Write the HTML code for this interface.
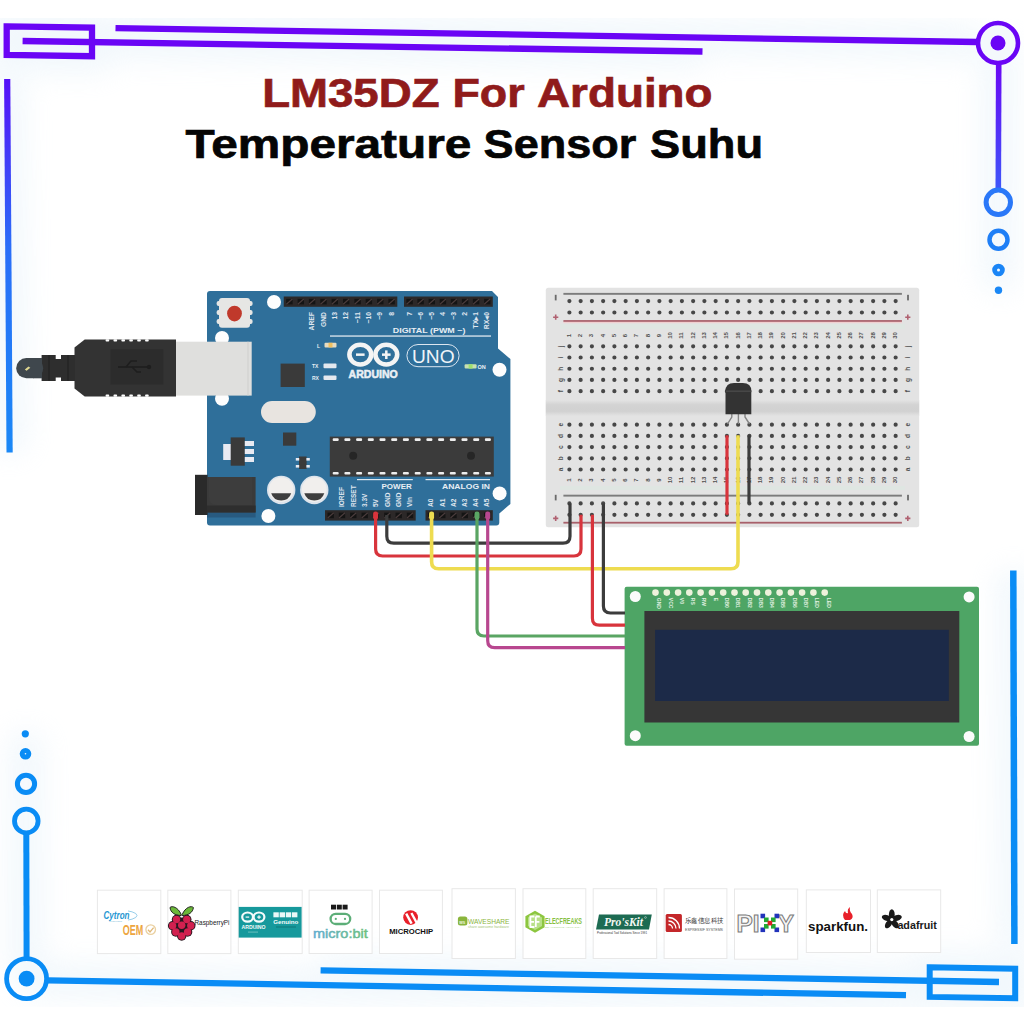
<!DOCTYPE html>
<html><head><meta charset="utf-8">
<style>
html,body{margin:0;padding:0;background:#fff;}
body{width:1024px;height:1024px;overflow:hidden;position:relative;font-family:"Liberation Sans",sans-serif;}
svg{position:absolute;left:0;top:0;}
</style></head><body>
<svg width="1024" height="1024" viewBox="0 0 1024 1024" style="font-family:'Liberation Sans',sans-serif">
<defs>
<filter id="glow" x="-10%" y="-10%" width="120%" height="120%"><feGaussianBlur stdDeviation="14"/></filter>
<clipPath id="band"><rect x="0" y="18" width="1024" height="989"/></clipPath>
<linearGradient id="gl" x1="0" y1="79" x2="0" y2="453" gradientUnits="userSpaceOnUse"><stop offset="0" stop-color="#5510f8"/><stop offset="0.45" stop-color="#2a6ef8"/><stop offset="1" stop-color="#1a88f6"/></linearGradient>
<linearGradient id="gr" x1="0" y1="65" x2="0" y2="200" gradientUnits="userSpaceOnUse"><stop offset="0" stop-color="#6a08f5"/><stop offset="1" stop-color="#3a5cfa"/></linearGradient>
</defs>

<g clip-path="url(#band)"><g filter="url(#glow)" fill="none" stroke="#d6e9f6" stroke-width="34" opacity="0.32">
<path d="M6.7,26.4 L92,27.7 L92,56.2 L6.7,55 Z"/>
<path d="M22.6,41 L702.5,51.5"/>
<path d="M115.5,28.1 L977,42"/>
<path d="M998.7,40 L998.3,290"/>
<path d="M7.2,79 L9.6,452.6"/>
<path d="M26,733 L26.6,980"/>
<path d="M26,980.3 L906,995.2"/>
<path d="M320.6,970.3 L999,982"/>
<path d="M929.7,967.3 L1015.2,968.8 L1015.2,998.3 L929.7,996.9 Z"/>
<path d="M1013.3,570.6 L1014.4,944"/>
</g></g>
<g fill="none" stroke="#6a05f5" stroke-width="6.3">
<path d="M6.7,26.4 L92,27.7 L92,56.2 L6.7,55 Z" stroke-linejoin="miter"/>
<path d="M22.6,41 L702.5,51.5"/>
<path d="M115.5,28.1 L977,42"/>
</g>
<circle cx="998" cy="43" r="20" fill="#f4f9fc" stroke="#6a05f5" stroke-width="4.6"/>
<circle cx="998" cy="43" r="7.5" fill="#6a05f5"/>
<path d="M998.7,64 L998.3,190" stroke="url(#gr)" stroke-width="5.6" fill="none"/>
<circle cx="998.3" cy="202.3" r="12.2" fill="none" stroke="#2a78f8" stroke-width="5"/>
<circle cx="998.5" cy="239.8" r="9" fill="none" stroke="#1f7ff6" stroke-width="4.5"/>
<circle cx="998.5" cy="270" r="3.9" fill="none" stroke="#1a85f6" stroke-width="4.8"/>
<circle cx="998.5" cy="290.2" r="3.7" fill="#1a88f6"/>
<path d="M7.2,79 L9.6,452.6" stroke="url(#gl)" stroke-width="6.2" fill="none"/>
<g fill="none" stroke="#0a8cf5">
<circle cx="25.3" cy="733.8" r="3.6" fill="#0a8cf5" stroke="none"/>
<circle cx="25.5" cy="753.8" r="3.3" stroke-width="5"/>
<circle cx="26" cy="783.9" r="8.6" stroke-width="5"/>
<circle cx="26.3" cy="821" r="11.8" stroke-width="4.8"/>
<path d="M26.3,833 L26.6,957" stroke-width="6"/>
<circle cx="26.6" cy="978.7" r="20" stroke-width="4.8"/>
<circle cx="26.6" cy="978.7" r="7.9" fill="#0a8cf5" stroke="none"/>
<path d="M48,980.3 L906,995.2" stroke-width="6.3"/>
<path d="M320.6,970.3 L999,982" stroke-width="6.3"/>
<path d="M929.7,967.3 L1015.2,968.8 L1015.2,998.3 L929.7,996.9 Z" stroke-width="6"/>
<path d="M1013.3,570.6 L1014.4,944" stroke-width="6.5"/>
</g>
<path d="M210,291 L492,291 L498,297 L498,348.6 L510.4,359 L510.4,504 L499.3,513.4 L499.3,522.6 Q499.3,525.6 496.3,525.6 L210,525.6 Q207,525.6 207,522.6 L207,294 Q207,291 210,291 Z" fill="#2f6f9a"/>
<rect x="283.75" y="296.5" width="113.55000000000001" height="10.300000000000011" fill="#2c2828"/>
<rect x="286.2" y="298.8" width="6.4" height="5.6" fill="#141414"/>
<path d="M286.4,304.2 L292.4,299.0" stroke="#4a3c3c" stroke-width="1.2"/>
<rect x="297.6" y="298.8" width="6.4" height="5.6" fill="#141414"/>
<path d="M297.8,304.2 L303.8,299.0" stroke="#4a3c3c" stroke-width="1.2"/>
<rect x="308.9" y="298.8" width="6.4" height="5.6" fill="#141414"/>
<path d="M309.1,304.2 L315.1,299.0" stroke="#4a3c3c" stroke-width="1.2"/>
<rect x="320.3" y="298.8" width="6.4" height="5.6" fill="#141414"/>
<path d="M320.5,304.2 L326.5,299.0" stroke="#4a3c3c" stroke-width="1.2"/>
<rect x="331.6" y="298.8" width="6.4" height="5.6" fill="#141414"/>
<path d="M331.8,304.2 L337.8,299.0" stroke="#4a3c3c" stroke-width="1.2"/>
<rect x="343.0" y="298.8" width="6.4" height="5.6" fill="#141414"/>
<path d="M343.2,304.2 L349.2,299.0" stroke="#4a3c3c" stroke-width="1.2"/>
<rect x="354.4" y="298.8" width="6.4" height="5.6" fill="#141414"/>
<path d="M354.6,304.2 L360.6,299.0" stroke="#4a3c3c" stroke-width="1.2"/>
<rect x="365.7" y="298.8" width="6.4" height="5.6" fill="#141414"/>
<path d="M365.9,304.2 L371.9,299.0" stroke="#4a3c3c" stroke-width="1.2"/>
<rect x="377.1" y="298.8" width="6.4" height="5.6" fill="#141414"/>
<path d="M377.3,304.2 L383.3,299.0" stroke="#4a3c3c" stroke-width="1.2"/>
<rect x="388.4" y="298.8" width="6.4" height="5.6" fill="#141414"/>
<path d="M388.6,304.2 L394.6,299.0" stroke="#4a3c3c" stroke-width="1.2"/>
<rect x="404" y="296.5" width="88.80000000000001" height="10.300000000000011" fill="#2c2828"/>
<rect x="406.4" y="298.8" width="6.4" height="5.6" fill="#141414"/>
<path d="M406.6,304.2 L412.6,299.0" stroke="#4a3c3c" stroke-width="1.2"/>
<rect x="417.4" y="298.8" width="6.4" height="5.6" fill="#141414"/>
<path d="M417.6,304.2 L423.6,299.0" stroke="#4a3c3c" stroke-width="1.2"/>
<rect x="428.6" y="298.8" width="6.4" height="5.6" fill="#141414"/>
<path d="M428.8,304.2 L434.8,299.0" stroke="#4a3c3c" stroke-width="1.2"/>
<rect x="439.7" y="298.8" width="6.4" height="5.6" fill="#141414"/>
<path d="M439.9,304.2 L445.9,299.0" stroke="#4a3c3c" stroke-width="1.2"/>
<rect x="450.8" y="298.8" width="6.4" height="5.6" fill="#141414"/>
<path d="M450.9,304.2 L456.9,299.0" stroke="#4a3c3c" stroke-width="1.2"/>
<rect x="461.9" y="298.8" width="6.4" height="5.6" fill="#141414"/>
<path d="M462.1,304.2 L468.1,299.0" stroke="#4a3c3c" stroke-width="1.2"/>
<rect x="472.9" y="298.8" width="6.4" height="5.6" fill="#141414"/>
<path d="M473.1,304.2 L479.1,299.0" stroke="#4a3c3c" stroke-width="1.2"/>
<rect x="484.1" y="298.8" width="6.4" height="5.6" fill="#141414"/>
<path d="M484.2,304.2 L490.2,299.0" stroke="#4a3c3c" stroke-width="1.2"/>
<rect x="325" y="510.2" width="90.69999999999999" height="10.400000000000034" fill="#2c2828"/>
<rect x="327.5" y="512.6" width="6.4" height="5.6" fill="#141414"/>
<path d="M327.7,518.0 L333.7,512.8" stroke="#4a3c3c" stroke-width="1.2"/>
<rect x="338.8" y="512.6" width="6.4" height="5.6" fill="#141414"/>
<path d="M339.0,518.0 L345.0,512.8" stroke="#4a3c3c" stroke-width="1.2"/>
<rect x="350.1" y="512.6" width="6.4" height="5.6" fill="#141414"/>
<path d="M350.3,518.0 L356.3,512.8" stroke="#4a3c3c" stroke-width="1.2"/>
<rect x="361.5" y="512.6" width="6.4" height="5.6" fill="#141414"/>
<path d="M361.7,518.0 L367.7,512.8" stroke="#4a3c3c" stroke-width="1.2"/>
<rect x="372.8" y="512.6" width="6.4" height="5.6" fill="#141414"/>
<path d="M373.0,518.0 L379.0,512.8" stroke="#4a3c3c" stroke-width="1.2"/>
<rect x="384.2" y="512.6" width="6.4" height="5.6" fill="#141414"/>
<path d="M384.4,518.0 L390.4,512.8" stroke="#4a3c3c" stroke-width="1.2"/>
<rect x="395.5" y="512.6" width="6.4" height="5.6" fill="#141414"/>
<path d="M395.7,518.0 L401.7,512.8" stroke="#4a3c3c" stroke-width="1.2"/>
<rect x="406.8" y="512.6" width="6.4" height="5.6" fill="#141414"/>
<path d="M407.0,518.0 L413.0,512.8" stroke="#4a3c3c" stroke-width="1.2"/>
<rect x="425.5" y="510.2" width="67.30000000000001" height="10.400000000000034" fill="#2c2828"/>
<rect x="427.9" y="512.6" width="6.4" height="5.6" fill="#141414"/>
<path d="M428.1,518.0 L434.1,512.8" stroke="#4a3c3c" stroke-width="1.2"/>
<rect x="439.1" y="512.6" width="6.4" height="5.6" fill="#141414"/>
<path d="M439.3,518.0 L445.3,512.8" stroke="#4a3c3c" stroke-width="1.2"/>
<rect x="450.3" y="512.6" width="6.4" height="5.6" fill="#141414"/>
<path d="M450.5,518.0 L456.5,512.8" stroke="#4a3c3c" stroke-width="1.2"/>
<rect x="461.6" y="512.6" width="6.4" height="5.6" fill="#141414"/>
<path d="M461.8,518.0 L467.8,512.8" stroke="#4a3c3c" stroke-width="1.2"/>
<rect x="472.8" y="512.6" width="6.4" height="5.6" fill="#141414"/>
<path d="M473.0,518.0 L479.0,512.8" stroke="#4a3c3c" stroke-width="1.2"/>
<rect x="484.0" y="512.6" width="6.4" height="5.6" fill="#141414"/>
<path d="M484.2,518.0 L490.2,512.8" stroke="#4a3c3c" stroke-width="1.2"/>
<circle cx="274" cy="302" r="7" fill="#fdfdfd"/>
<circle cx="499.5" cy="369.7" r="7" fill="#fdfdfd"/>
<circle cx="268.4" cy="516" r="7" fill="#fdfdfd"/>
<circle cx="499.6" cy="493.4" r="7" fill="#fdfdfd"/>
<circle cx="222" cy="338" r="7" fill="#fdfdfd"/>
<circle cx="222" cy="398.7" r="7" fill="#fdfdfd"/>
<rect x="219" y="298" width="31" height="29.7" rx="3" fill="#e6e6e4"/>
<rect x="216.6" y="301" width="36" height="5" rx="2" fill="#e6e6e4"/>
<rect x="216.6" y="310" width="36" height="5" rx="2" fill="#e6e6e4"/>
<rect x="216.6" y="319" width="36" height="5" rx="2" fill="#e6e6e4"/>
<ellipse cx="234.5" cy="313.6" rx="7.4" ry="7.8" fill="#c0392b"/>
<rect x="280.6" y="363.6" width="24.2" height="23.4" fill="#3a3a3a"/>
<rect x="261" y="401" width="54.8" height="22" rx="11" fill="#e8e4e0"/>
<rect x="223.2" y="444" width="8" height="16" fill="#e8eaf2"/>
<rect x="230.7" y="437.4" width="14.1" height="28.3" fill="#3a3a3a"/>
<rect x="244.8" y="441" width="9.2" height="5" fill="#e8eaf2"/>
<rect x="244.8" y="449" width="9.2" height="5" fill="#e8eaf2"/>
<rect x="244.8" y="457" width="9.2" height="5" fill="#e8eaf2"/>
<rect x="283" y="432.5" width="13.3" height="13.2" fill="#3a3a3a"/>
<rect x="299" y="456.5" width="7.6" height="12.5" fill="#3a3a3a"/>
<rect x="295.8" y="458" width="3.4" height="2.6" fill="#e8eaf2"/>
<rect x="306.4" y="458" width="3.4" height="2.6" fill="#e8eaf2"/>
<rect x="295.8" y="465" width="3.4" height="2.6" fill="#e8eaf2"/>
<rect x="306.4" y="465" width="3.4" height="2.6" fill="#e8eaf2"/>
<rect x="207" y="512" width="48.6" height="5.5" fill="#285a80"/>
<rect x="195" y="474.8" width="12.6" height="40.2" fill="#2a2a2a"/>
<rect x="207" y="477" width="48.6" height="35.4" fill="#3a3a3a"/>
<path d="M209,477 H252 V505 H217 Q209,505 209,497 Z" fill="#3d3d3d"/>
<rect x="207" y="505.5" width="48.6" height="7" fill="#2e2e2e"/>
<circle cx="281.2" cy="490" r="14.2" fill="#dde4ec"/>
<circle cx="281.2" cy="489.6" r="12.4" fill="#f1efed"/>
<path d="M271.2,493.2 A10.5,10.5 0 0 0 291.2,493.2 Z" fill="#3e3e3e"/>
<circle cx="314.3" cy="490" r="14.2" fill="#dde4ec"/>
<circle cx="314.3" cy="489.6" r="12.4" fill="#f1efed"/>
<path d="M304.3,493.2 A10.5,10.5 0 0 0 324.3,493.2 Z" fill="#3e3e3e"/>
<rect x="329.8" y="436.6" width="164" height="40" fill="#3b3b3b"/>
<rect x="332.7" y="438.3" width="6" height="2.6" rx="1" fill="#eeeeee"/>
<rect x="332.7" y="472" width="6" height="2.6" rx="1" fill="#eeeeee"/>
<rect x="344.4" y="438.3" width="6" height="2.6" rx="1" fill="#eeeeee"/>
<rect x="344.4" y="472" width="6" height="2.6" rx="1" fill="#eeeeee"/>
<rect x="356.1" y="438.3" width="6" height="2.6" rx="1" fill="#eeeeee"/>
<rect x="356.1" y="472" width="6" height="2.6" rx="1" fill="#eeeeee"/>
<rect x="367.8" y="438.3" width="6" height="2.6" rx="1" fill="#eeeeee"/>
<rect x="367.8" y="472" width="6" height="2.6" rx="1" fill="#eeeeee"/>
<rect x="379.5" y="438.3" width="6" height="2.6" rx="1" fill="#eeeeee"/>
<rect x="379.5" y="472" width="6" height="2.6" rx="1" fill="#eeeeee"/>
<rect x="391.2" y="438.3" width="6" height="2.6" rx="1" fill="#eeeeee"/>
<rect x="391.2" y="472" width="6" height="2.6" rx="1" fill="#eeeeee"/>
<rect x="402.9" y="438.3" width="6" height="2.6" rx="1" fill="#eeeeee"/>
<rect x="402.9" y="472" width="6" height="2.6" rx="1" fill="#eeeeee"/>
<rect x="414.7" y="438.3" width="6" height="2.6" rx="1" fill="#eeeeee"/>
<rect x="414.7" y="472" width="6" height="2.6" rx="1" fill="#eeeeee"/>
<rect x="426.4" y="438.3" width="6" height="2.6" rx="1" fill="#eeeeee"/>
<rect x="426.4" y="472" width="6" height="2.6" rx="1" fill="#eeeeee"/>
<rect x="438.1" y="438.3" width="6" height="2.6" rx="1" fill="#eeeeee"/>
<rect x="438.1" y="472" width="6" height="2.6" rx="1" fill="#eeeeee"/>
<rect x="449.8" y="438.3" width="6" height="2.6" rx="1" fill="#eeeeee"/>
<rect x="449.8" y="472" width="6" height="2.6" rx="1" fill="#eeeeee"/>
<rect x="461.5" y="438.3" width="6" height="2.6" rx="1" fill="#eeeeee"/>
<rect x="461.5" y="472" width="6" height="2.6" rx="1" fill="#eeeeee"/>
<rect x="473.2" y="438.3" width="6" height="2.6" rx="1" fill="#eeeeee"/>
<rect x="473.2" y="472" width="6" height="2.6" rx="1" fill="#eeeeee"/>
<rect x="484.9" y="438.3" width="6" height="2.6" rx="1" fill="#eeeeee"/>
<rect x="484.9" y="472" width="6" height="2.6" rx="1" fill="#eeeeee"/>
<circle cx="353.2" cy="455.7" r="4" fill="#262626"/>
<circle cx="471" cy="455.7" r="4" fill="#262626"/>
<rect x="330" y="335.4" width="161" height="1.3" fill="#dfe8f0"/>
<rect x="357" y="479" width="55.8" height="1.2" fill="#dfe8f0"/>
<rect x="425.5" y="479" width="64.5" height="1.2" fill="#dfe8f0"/>
<text x="392.8" y="332.8" font-size="7.6" fill="#e8eef4" font-weight="bold" textLength="72.6" lengthAdjust="spacingAndGlyphs">DIGITAL (PWM ~)</text>
<text x="381.5" y="489.4" font-size="7.6" fill="#e8eef4" font-weight="bold" textLength="30.3" lengthAdjust="spacingAndGlyphs">POWER</text>
<text x="442" y="489.4" font-size="7.6" fill="#e8eef4" font-weight="bold" textLength="48" lengthAdjust="spacingAndGlyphs">ANALOG IN</text>
<text x="348.6" y="378.2" font-size="10.4" fill="#e8eef4" font-weight="bold" stroke="#eef2f6" stroke-width="0.5" textLength="49.2" lengthAdjust="spacingAndGlyphs">ARDUINO</text>
<g fill="none" stroke="#f4f4f4" stroke-width="4.6">
<ellipse cx="360.3" cy="354.6" rx="10.9" ry="9.9"/>
<ellipse cx="386.3" cy="354.6" rx="10.9" ry="9.9"/>
</g>
<rect x="356" y="353.4" width="8.6" height="2.5" fill="#f4f4f4"/>
<rect x="382" y="353.4" width="8.6" height="2.5" fill="#f4f4f4"/>
<rect x="385.05" y="350.4" width="2.5" height="8.6" fill="#f4f4f4"/>
<rect x="406.9" y="344.5" width="52.2" height="22.2" rx="11.1" fill="none" stroke="#dce6f0" stroke-width="1"/>
<text x="412" y="363.2" font-size="17.5" fill="#f0f4f8" textLength="42.6" lengthAdjust="spacingAndGlyphs">UNO</text>
<text x="317" y="347.5" font-size="5" fill="#e8eef4" font-weight="bold">L</text>
<rect x="324.5" y="342.8" width="12" height="4.6" rx="1" fill="#e8dcc0"/>
<rect x="328.5" y="342.8" width="4" height="4.6" fill="#f0c060"/>
<text x="312" y="368.3" font-size="5" fill="#e8eef4" font-weight="bold">TX</text>
<text x="312" y="380" font-size="5" fill="#e8eef4" font-weight="bold">RX</text>
<rect x="323.5" y="363.6" width="13" height="4.6" rx="1" fill="#e4e8ee"/>
<rect x="323.5" y="375.4" width="13" height="4.6" rx="1" fill="#e4e8ee"/>
<rect x="464.6" y="364.2" width="12" height="4.4" rx="1" fill="#c8e0b0"/>
<rect x="468.6" y="364.2" width="4" height="4.4" fill="#9ee070"/>
<text x="477.5" y="368.8" font-size="5.5" fill="#e8eef4" font-weight="bold">ON</text>
<text transform="translate(314.1,312) rotate(-90)" font-size="6.8" fill="#e0e8f0" font-weight="bold" text-anchor="end">AREF</text>
<text transform="translate(325.5,312) rotate(-90)" font-size="6.8" fill="#e0e8f0" font-weight="bold" text-anchor="end">GND</text>
<text transform="translate(336.8,312) rotate(-90)" font-size="6.8" fill="#e0e8f0" font-weight="bold" text-anchor="end">13</text>
<text transform="translate(348.2,312) rotate(-90)" font-size="6.8" fill="#e0e8f0" font-weight="bold" text-anchor="end">12</text>
<text transform="translate(359.6,312) rotate(-90)" font-size="6.8" fill="#e0e8f0" font-weight="bold" text-anchor="end">~11</text>
<text transform="translate(370.9,312) rotate(-90)" font-size="6.8" fill="#e0e8f0" font-weight="bold" text-anchor="end">~10</text>
<text transform="translate(382.3,312) rotate(-90)" font-size="6.8" fill="#e0e8f0" font-weight="bold" text-anchor="end">~9</text>
<text transform="translate(393.6,312) rotate(-90)" font-size="6.8" fill="#e0e8f0" font-weight="bold" text-anchor="end">8</text>
<text transform="translate(411.6,312) rotate(-90)" font-size="6.8" fill="#e0e8f0" font-weight="bold" text-anchor="end">7</text>
<text transform="translate(422.6,312) rotate(-90)" font-size="6.8" fill="#e0e8f0" font-weight="bold" text-anchor="end">~6</text>
<text transform="translate(433.8,312) rotate(-90)" font-size="6.8" fill="#e0e8f0" font-weight="bold" text-anchor="end">~5</text>
<text transform="translate(444.9,312) rotate(-90)" font-size="6.8" fill="#e0e8f0" font-weight="bold" text-anchor="end">4</text>
<text transform="translate(455.9,312) rotate(-90)" font-size="6.8" fill="#e0e8f0" font-weight="bold" text-anchor="end">~3</text>
<text transform="translate(467.1,312) rotate(-90)" font-size="6.8" fill="#e0e8f0" font-weight="bold" text-anchor="end">2</text>
<text transform="translate(478.1,312) rotate(-90)" font-size="6.8" fill="#e0e8f0" font-weight="bold" text-anchor="end">TX▸1</text>
<text transform="translate(489.2,312) rotate(-90)" font-size="6.8" fill="#e0e8f0" font-weight="bold" text-anchor="end">RX◂0</text>
<text transform="translate(332.9,507) rotate(-90)" font-size="6.5" fill="#e0e8f0" font-weight="bold"></text>
<text transform="translate(344.2,507) rotate(-90)" font-size="6.5" fill="#e0e8f0" font-weight="bold">IOREF</text>
<text transform="translate(355.5,507) rotate(-90)" font-size="6.5" fill="#e0e8f0" font-weight="bold">RESET</text>
<text transform="translate(366.9,507) rotate(-90)" font-size="6.5" fill="#e0e8f0" font-weight="bold">3.3V</text>
<text transform="translate(378.2,507) rotate(-90)" font-size="6.5" fill="#e0e8f0" font-weight="bold">5V</text>
<text transform="translate(389.6,507) rotate(-90)" font-size="6.5" fill="#e0e8f0" font-weight="bold">GND</text>
<text transform="translate(400.9,507) rotate(-90)" font-size="6.5" fill="#e0e8f0" font-weight="bold">GND</text>
<text transform="translate(412.2,507) rotate(-90)" font-size="6.5" fill="#e0e8f0" font-weight="bold">Vin</text>
<text transform="translate(433.3,507) rotate(-90)" font-size="6.5" fill="#e0e8f0" font-weight="bold">A0</text>
<text transform="translate(444.5,507) rotate(-90)" font-size="6.5" fill="#e0e8f0" font-weight="bold">A1</text>
<text transform="translate(455.7,507) rotate(-90)" font-size="6.5" fill="#e0e8f0" font-weight="bold">A2</text>
<text transform="translate(467.0,507) rotate(-90)" font-size="6.5" fill="#e0e8f0" font-weight="bold">A3</text>
<text transform="translate(478.2,507) rotate(-90)" font-size="6.5" fill="#e0e8f0" font-weight="bold">A4</text>
<text transform="translate(489.4,507) rotate(-90)" font-size="6.5" fill="#e0e8f0" font-weight="bold">A5</text>
<rect x="176" y="341.7" width="75.7" height="53.9" fill="#dfdfdd"/>
<rect x="247.5" y="341.7" width="1" height="53.9" fill="#cfcfcd"/>
<path d="M84.7,339.6 L176,339.6 L176,396.6 L84.7,396.6 L74.5,388.5 L74.5,347.6 Z" fill="#333333"/>
<rect x="110.6" y="349.3" width="52.7" height="35.2" fill="#2c2c2c"/>
<rect x="105.6" y="339.2" width="3.6" height="2.3" rx="0.8" fill="#fff"/>
<rect x="105.6" y="394.5" width="3.6" height="2.3" rx="0.8" fill="#fff"/>
<rect x="113.5" y="339.2" width="3.6" height="2.3" rx="0.8" fill="#fff"/>
<rect x="113.5" y="394.5" width="3.6" height="2.3" rx="0.8" fill="#fff"/>
<rect x="121.4" y="339.2" width="3.6" height="2.3" rx="0.8" fill="#fff"/>
<rect x="121.4" y="394.5" width="3.6" height="2.3" rx="0.8" fill="#fff"/>
<rect x="129.3" y="339.2" width="3.6" height="2.3" rx="0.8" fill="#fff"/>
<rect x="129.3" y="394.5" width="3.6" height="2.3" rx="0.8" fill="#fff"/>
<rect x="137.2" y="339.2" width="3.6" height="2.3" rx="0.8" fill="#fff"/>
<rect x="137.2" y="394.5" width="3.6" height="2.3" rx="0.8" fill="#fff"/>
<rect x="145.1" y="339.2" width="3.6" height="2.3" rx="0.8" fill="#fff"/>
<rect x="145.1" y="394.5" width="3.6" height="2.3" rx="0.8" fill="#fff"/>
<rect x="41.6" y="355" width="14.1" height="26" fill="#2e2e2e"/>
<rect x="55" y="359" width="7" height="18.5" fill="#2e2e2e"/>
<rect x="61" y="355" width="14" height="26" fill="#2e2e2e"/>
<rect x="48" y="355" width="2" height="26" fill="#262626"/>
<rect x="67" y="355" width="2" height="26" fill="#262626"/>
<rect x="16.2" y="358" width="27" height="20.3" rx="10.1" fill="#3f474d"/>
<rect x="33" y="358" width="9" height="20.3" fill="#3f474d"/>
<path d="M24.8,369.6 L28.5,366.6 L30.3,367.8 L26.6,370.8 Z" fill="#e0d890"/>
<g stroke="#1e1e1e" stroke-width="1.6" fill="none"><path d="M118,367 H148"/><path d="M126,367 L131,361 H137"/><path d="M132,367 L137,372 H141"/></g>
<circle cx="149" cy="367" r="2.2" fill="#1e1e1e"/>
<rect x="545.8" y="287.8" width="373.4" height="239.5" rx="2.5" fill="#e3e3e3"/>
<linearGradient id="chg" x1="0" y1="400" x2="0" y2="416" gradientUnits="userSpaceOnUse"><stop offset="0" stop-color="#e3e3e3"/><stop offset="0.3" stop-color="#d3d3d3"/><stop offset="0.7" stop-color="#d1d1d1"/><stop offset="1" stop-color="#e3e3e3"/></linearGradient>
<rect x="545.8" y="400" width="373.4" height="16" fill="url(#chg)"/>
<rect x="560" y="324" width="345" height="5" fill="#dfe6e2"/>
<rect x="560" y="486" width="345" height="4" fill="#dfe6e2"/>
<rect x="563.4" y="292.9" width="338.5" height="1.9" fill="#7c7c7c"/>
<rect x="563.4" y="320.1" width="338.5" height="1.8" fill="#a8606a"/><rect x="563.4" y="321.9" width="338.5" height="1.2" fill="#f0d0d0"/>
<rect x="563.4" y="494.7" width="338.5" height="1.9" fill="#7c7c7c"/>
<rect x="563.4" y="521.8" width="338.5" height="1.8" fill="#a8606a"/>
<path d="M567.30,301.10a2.1,2.1 0 1,0 4.2,0a2.1,2.1 0 1,0 -4.2,0M578.55,301.10a2.1,2.1 0 1,0 4.2,0a2.1,2.1 0 1,0 -4.2,0M589.80,301.10a2.1,2.1 0 1,0 4.2,0a2.1,2.1 0 1,0 -4.2,0M601.05,301.10a2.1,2.1 0 1,0 4.2,0a2.1,2.1 0 1,0 -4.2,0M612.30,301.10a2.1,2.1 0 1,0 4.2,0a2.1,2.1 0 1,0 -4.2,0M623.55,301.10a2.1,2.1 0 1,0 4.2,0a2.1,2.1 0 1,0 -4.2,0M634.80,301.10a2.1,2.1 0 1,0 4.2,0a2.1,2.1 0 1,0 -4.2,0M646.05,301.10a2.1,2.1 0 1,0 4.2,0a2.1,2.1 0 1,0 -4.2,0M657.30,301.10a2.1,2.1 0 1,0 4.2,0a2.1,2.1 0 1,0 -4.2,0M668.55,301.10a2.1,2.1 0 1,0 4.2,0a2.1,2.1 0 1,0 -4.2,0M679.80,301.10a2.1,2.1 0 1,0 4.2,0a2.1,2.1 0 1,0 -4.2,0M691.05,301.10a2.1,2.1 0 1,0 4.2,0a2.1,2.1 0 1,0 -4.2,0M702.30,301.10a2.1,2.1 0 1,0 4.2,0a2.1,2.1 0 1,0 -4.2,0M713.55,301.10a2.1,2.1 0 1,0 4.2,0a2.1,2.1 0 1,0 -4.2,0M724.80,301.10a2.1,2.1 0 1,0 4.2,0a2.1,2.1 0 1,0 -4.2,0M736.05,301.10a2.1,2.1 0 1,0 4.2,0a2.1,2.1 0 1,0 -4.2,0M747.30,301.10a2.1,2.1 0 1,0 4.2,0a2.1,2.1 0 1,0 -4.2,0M758.55,301.10a2.1,2.1 0 1,0 4.2,0a2.1,2.1 0 1,0 -4.2,0M769.80,301.10a2.1,2.1 0 1,0 4.2,0a2.1,2.1 0 1,0 -4.2,0M781.05,301.10a2.1,2.1 0 1,0 4.2,0a2.1,2.1 0 1,0 -4.2,0M792.30,301.10a2.1,2.1 0 1,0 4.2,0a2.1,2.1 0 1,0 -4.2,0M803.55,301.10a2.1,2.1 0 1,0 4.2,0a2.1,2.1 0 1,0 -4.2,0M814.80,301.10a2.1,2.1 0 1,0 4.2,0a2.1,2.1 0 1,0 -4.2,0M826.05,301.10a2.1,2.1 0 1,0 4.2,0a2.1,2.1 0 1,0 -4.2,0M837.30,301.10a2.1,2.1 0 1,0 4.2,0a2.1,2.1 0 1,0 -4.2,0M848.55,301.10a2.1,2.1 0 1,0 4.2,0a2.1,2.1 0 1,0 -4.2,0M859.80,301.10a2.1,2.1 0 1,0 4.2,0a2.1,2.1 0 1,0 -4.2,0M871.05,301.10a2.1,2.1 0 1,0 4.2,0a2.1,2.1 0 1,0 -4.2,0M882.30,301.10a2.1,2.1 0 1,0 4.2,0a2.1,2.1 0 1,0 -4.2,0M893.55,301.10a2.1,2.1 0 1,0 4.2,0a2.1,2.1 0 1,0 -4.2,0M567.30,312.50a2.1,2.1 0 1,0 4.2,0a2.1,2.1 0 1,0 -4.2,0M578.55,312.50a2.1,2.1 0 1,0 4.2,0a2.1,2.1 0 1,0 -4.2,0M589.80,312.50a2.1,2.1 0 1,0 4.2,0a2.1,2.1 0 1,0 -4.2,0M601.05,312.50a2.1,2.1 0 1,0 4.2,0a2.1,2.1 0 1,0 -4.2,0M612.30,312.50a2.1,2.1 0 1,0 4.2,0a2.1,2.1 0 1,0 -4.2,0M623.55,312.50a2.1,2.1 0 1,0 4.2,0a2.1,2.1 0 1,0 -4.2,0M634.80,312.50a2.1,2.1 0 1,0 4.2,0a2.1,2.1 0 1,0 -4.2,0M646.05,312.50a2.1,2.1 0 1,0 4.2,0a2.1,2.1 0 1,0 -4.2,0M657.30,312.50a2.1,2.1 0 1,0 4.2,0a2.1,2.1 0 1,0 -4.2,0M668.55,312.50a2.1,2.1 0 1,0 4.2,0a2.1,2.1 0 1,0 -4.2,0M679.80,312.50a2.1,2.1 0 1,0 4.2,0a2.1,2.1 0 1,0 -4.2,0M691.05,312.50a2.1,2.1 0 1,0 4.2,0a2.1,2.1 0 1,0 -4.2,0M702.30,312.50a2.1,2.1 0 1,0 4.2,0a2.1,2.1 0 1,0 -4.2,0M713.55,312.50a2.1,2.1 0 1,0 4.2,0a2.1,2.1 0 1,0 -4.2,0M724.80,312.50a2.1,2.1 0 1,0 4.2,0a2.1,2.1 0 1,0 -4.2,0M736.05,312.50a2.1,2.1 0 1,0 4.2,0a2.1,2.1 0 1,0 -4.2,0M747.30,312.50a2.1,2.1 0 1,0 4.2,0a2.1,2.1 0 1,0 -4.2,0M758.55,312.50a2.1,2.1 0 1,0 4.2,0a2.1,2.1 0 1,0 -4.2,0M769.80,312.50a2.1,2.1 0 1,0 4.2,0a2.1,2.1 0 1,0 -4.2,0M781.05,312.50a2.1,2.1 0 1,0 4.2,0a2.1,2.1 0 1,0 -4.2,0M792.30,312.50a2.1,2.1 0 1,0 4.2,0a2.1,2.1 0 1,0 -4.2,0M803.55,312.50a2.1,2.1 0 1,0 4.2,0a2.1,2.1 0 1,0 -4.2,0M814.80,312.50a2.1,2.1 0 1,0 4.2,0a2.1,2.1 0 1,0 -4.2,0M826.05,312.50a2.1,2.1 0 1,0 4.2,0a2.1,2.1 0 1,0 -4.2,0M837.30,312.50a2.1,2.1 0 1,0 4.2,0a2.1,2.1 0 1,0 -4.2,0M848.55,312.50a2.1,2.1 0 1,0 4.2,0a2.1,2.1 0 1,0 -4.2,0M859.80,312.50a2.1,2.1 0 1,0 4.2,0a2.1,2.1 0 1,0 -4.2,0M871.05,312.50a2.1,2.1 0 1,0 4.2,0a2.1,2.1 0 1,0 -4.2,0M882.30,312.50a2.1,2.1 0 1,0 4.2,0a2.1,2.1 0 1,0 -4.2,0M893.55,312.50a2.1,2.1 0 1,0 4.2,0a2.1,2.1 0 1,0 -4.2,0M567.30,346.30a2.1,2.1 0 1,0 4.2,0a2.1,2.1 0 1,0 -4.2,0M578.55,346.30a2.1,2.1 0 1,0 4.2,0a2.1,2.1 0 1,0 -4.2,0M589.80,346.30a2.1,2.1 0 1,0 4.2,0a2.1,2.1 0 1,0 -4.2,0M601.05,346.30a2.1,2.1 0 1,0 4.2,0a2.1,2.1 0 1,0 -4.2,0M612.30,346.30a2.1,2.1 0 1,0 4.2,0a2.1,2.1 0 1,0 -4.2,0M623.55,346.30a2.1,2.1 0 1,0 4.2,0a2.1,2.1 0 1,0 -4.2,0M634.80,346.30a2.1,2.1 0 1,0 4.2,0a2.1,2.1 0 1,0 -4.2,0M646.05,346.30a2.1,2.1 0 1,0 4.2,0a2.1,2.1 0 1,0 -4.2,0M657.30,346.30a2.1,2.1 0 1,0 4.2,0a2.1,2.1 0 1,0 -4.2,0M668.55,346.30a2.1,2.1 0 1,0 4.2,0a2.1,2.1 0 1,0 -4.2,0M679.80,346.30a2.1,2.1 0 1,0 4.2,0a2.1,2.1 0 1,0 -4.2,0M691.05,346.30a2.1,2.1 0 1,0 4.2,0a2.1,2.1 0 1,0 -4.2,0M702.30,346.30a2.1,2.1 0 1,0 4.2,0a2.1,2.1 0 1,0 -4.2,0M713.55,346.30a2.1,2.1 0 1,0 4.2,0a2.1,2.1 0 1,0 -4.2,0M724.80,346.30a2.1,2.1 0 1,0 4.2,0a2.1,2.1 0 1,0 -4.2,0M736.05,346.30a2.1,2.1 0 1,0 4.2,0a2.1,2.1 0 1,0 -4.2,0M747.30,346.30a2.1,2.1 0 1,0 4.2,0a2.1,2.1 0 1,0 -4.2,0M758.55,346.30a2.1,2.1 0 1,0 4.2,0a2.1,2.1 0 1,0 -4.2,0M769.80,346.30a2.1,2.1 0 1,0 4.2,0a2.1,2.1 0 1,0 -4.2,0M781.05,346.30a2.1,2.1 0 1,0 4.2,0a2.1,2.1 0 1,0 -4.2,0M792.30,346.30a2.1,2.1 0 1,0 4.2,0a2.1,2.1 0 1,0 -4.2,0M803.55,346.30a2.1,2.1 0 1,0 4.2,0a2.1,2.1 0 1,0 -4.2,0M814.80,346.30a2.1,2.1 0 1,0 4.2,0a2.1,2.1 0 1,0 -4.2,0M826.05,346.30a2.1,2.1 0 1,0 4.2,0a2.1,2.1 0 1,0 -4.2,0M837.30,346.30a2.1,2.1 0 1,0 4.2,0a2.1,2.1 0 1,0 -4.2,0M848.55,346.30a2.1,2.1 0 1,0 4.2,0a2.1,2.1 0 1,0 -4.2,0M859.80,346.30a2.1,2.1 0 1,0 4.2,0a2.1,2.1 0 1,0 -4.2,0M871.05,346.30a2.1,2.1 0 1,0 4.2,0a2.1,2.1 0 1,0 -4.2,0M882.30,346.30a2.1,2.1 0 1,0 4.2,0a2.1,2.1 0 1,0 -4.2,0M893.55,346.30a2.1,2.1 0 1,0 4.2,0a2.1,2.1 0 1,0 -4.2,0M567.30,357.52a2.1,2.1 0 1,0 4.2,0a2.1,2.1 0 1,0 -4.2,0M578.55,357.52a2.1,2.1 0 1,0 4.2,0a2.1,2.1 0 1,0 -4.2,0M589.80,357.52a2.1,2.1 0 1,0 4.2,0a2.1,2.1 0 1,0 -4.2,0M601.05,357.52a2.1,2.1 0 1,0 4.2,0a2.1,2.1 0 1,0 -4.2,0M612.30,357.52a2.1,2.1 0 1,0 4.2,0a2.1,2.1 0 1,0 -4.2,0M623.55,357.52a2.1,2.1 0 1,0 4.2,0a2.1,2.1 0 1,0 -4.2,0M634.80,357.52a2.1,2.1 0 1,0 4.2,0a2.1,2.1 0 1,0 -4.2,0M646.05,357.52a2.1,2.1 0 1,0 4.2,0a2.1,2.1 0 1,0 -4.2,0M657.30,357.52a2.1,2.1 0 1,0 4.2,0a2.1,2.1 0 1,0 -4.2,0M668.55,357.52a2.1,2.1 0 1,0 4.2,0a2.1,2.1 0 1,0 -4.2,0M679.80,357.52a2.1,2.1 0 1,0 4.2,0a2.1,2.1 0 1,0 -4.2,0M691.05,357.52a2.1,2.1 0 1,0 4.2,0a2.1,2.1 0 1,0 -4.2,0M702.30,357.52a2.1,2.1 0 1,0 4.2,0a2.1,2.1 0 1,0 -4.2,0M713.55,357.52a2.1,2.1 0 1,0 4.2,0a2.1,2.1 0 1,0 -4.2,0M724.80,357.52a2.1,2.1 0 1,0 4.2,0a2.1,2.1 0 1,0 -4.2,0M736.05,357.52a2.1,2.1 0 1,0 4.2,0a2.1,2.1 0 1,0 -4.2,0M747.30,357.52a2.1,2.1 0 1,0 4.2,0a2.1,2.1 0 1,0 -4.2,0M758.55,357.52a2.1,2.1 0 1,0 4.2,0a2.1,2.1 0 1,0 -4.2,0M769.80,357.52a2.1,2.1 0 1,0 4.2,0a2.1,2.1 0 1,0 -4.2,0M781.05,357.52a2.1,2.1 0 1,0 4.2,0a2.1,2.1 0 1,0 -4.2,0M792.30,357.52a2.1,2.1 0 1,0 4.2,0a2.1,2.1 0 1,0 -4.2,0M803.55,357.52a2.1,2.1 0 1,0 4.2,0a2.1,2.1 0 1,0 -4.2,0M814.80,357.52a2.1,2.1 0 1,0 4.2,0a2.1,2.1 0 1,0 -4.2,0M826.05,357.52a2.1,2.1 0 1,0 4.2,0a2.1,2.1 0 1,0 -4.2,0M837.30,357.52a2.1,2.1 0 1,0 4.2,0a2.1,2.1 0 1,0 -4.2,0M848.55,357.52a2.1,2.1 0 1,0 4.2,0a2.1,2.1 0 1,0 -4.2,0M859.80,357.52a2.1,2.1 0 1,0 4.2,0a2.1,2.1 0 1,0 -4.2,0M871.05,357.52a2.1,2.1 0 1,0 4.2,0a2.1,2.1 0 1,0 -4.2,0M882.30,357.52a2.1,2.1 0 1,0 4.2,0a2.1,2.1 0 1,0 -4.2,0M893.55,357.52a2.1,2.1 0 1,0 4.2,0a2.1,2.1 0 1,0 -4.2,0M567.30,368.74a2.1,2.1 0 1,0 4.2,0a2.1,2.1 0 1,0 -4.2,0M578.55,368.74a2.1,2.1 0 1,0 4.2,0a2.1,2.1 0 1,0 -4.2,0M589.80,368.74a2.1,2.1 0 1,0 4.2,0a2.1,2.1 0 1,0 -4.2,0M601.05,368.74a2.1,2.1 0 1,0 4.2,0a2.1,2.1 0 1,0 -4.2,0M612.30,368.74a2.1,2.1 0 1,0 4.2,0a2.1,2.1 0 1,0 -4.2,0M623.55,368.74a2.1,2.1 0 1,0 4.2,0a2.1,2.1 0 1,0 -4.2,0M634.80,368.74a2.1,2.1 0 1,0 4.2,0a2.1,2.1 0 1,0 -4.2,0M646.05,368.74a2.1,2.1 0 1,0 4.2,0a2.1,2.1 0 1,0 -4.2,0M657.30,368.74a2.1,2.1 0 1,0 4.2,0a2.1,2.1 0 1,0 -4.2,0M668.55,368.74a2.1,2.1 0 1,0 4.2,0a2.1,2.1 0 1,0 -4.2,0M679.80,368.74a2.1,2.1 0 1,0 4.2,0a2.1,2.1 0 1,0 -4.2,0M691.05,368.74a2.1,2.1 0 1,0 4.2,0a2.1,2.1 0 1,0 -4.2,0M702.30,368.74a2.1,2.1 0 1,0 4.2,0a2.1,2.1 0 1,0 -4.2,0M713.55,368.74a2.1,2.1 0 1,0 4.2,0a2.1,2.1 0 1,0 -4.2,0M724.80,368.74a2.1,2.1 0 1,0 4.2,0a2.1,2.1 0 1,0 -4.2,0M736.05,368.74a2.1,2.1 0 1,0 4.2,0a2.1,2.1 0 1,0 -4.2,0M747.30,368.74a2.1,2.1 0 1,0 4.2,0a2.1,2.1 0 1,0 -4.2,0M758.55,368.74a2.1,2.1 0 1,0 4.2,0a2.1,2.1 0 1,0 -4.2,0M769.80,368.74a2.1,2.1 0 1,0 4.2,0a2.1,2.1 0 1,0 -4.2,0M781.05,368.74a2.1,2.1 0 1,0 4.2,0a2.1,2.1 0 1,0 -4.2,0M792.30,368.74a2.1,2.1 0 1,0 4.2,0a2.1,2.1 0 1,0 -4.2,0M803.55,368.74a2.1,2.1 0 1,0 4.2,0a2.1,2.1 0 1,0 -4.2,0M814.80,368.74a2.1,2.1 0 1,0 4.2,0a2.1,2.1 0 1,0 -4.2,0M826.05,368.74a2.1,2.1 0 1,0 4.2,0a2.1,2.1 0 1,0 -4.2,0M837.30,368.74a2.1,2.1 0 1,0 4.2,0a2.1,2.1 0 1,0 -4.2,0M848.55,368.74a2.1,2.1 0 1,0 4.2,0a2.1,2.1 0 1,0 -4.2,0M859.80,368.74a2.1,2.1 0 1,0 4.2,0a2.1,2.1 0 1,0 -4.2,0M871.05,368.74a2.1,2.1 0 1,0 4.2,0a2.1,2.1 0 1,0 -4.2,0M882.30,368.74a2.1,2.1 0 1,0 4.2,0a2.1,2.1 0 1,0 -4.2,0M893.55,368.74a2.1,2.1 0 1,0 4.2,0a2.1,2.1 0 1,0 -4.2,0M567.30,379.96a2.1,2.1 0 1,0 4.2,0a2.1,2.1 0 1,0 -4.2,0M578.55,379.96a2.1,2.1 0 1,0 4.2,0a2.1,2.1 0 1,0 -4.2,0M589.80,379.96a2.1,2.1 0 1,0 4.2,0a2.1,2.1 0 1,0 -4.2,0M601.05,379.96a2.1,2.1 0 1,0 4.2,0a2.1,2.1 0 1,0 -4.2,0M612.30,379.96a2.1,2.1 0 1,0 4.2,0a2.1,2.1 0 1,0 -4.2,0M623.55,379.96a2.1,2.1 0 1,0 4.2,0a2.1,2.1 0 1,0 -4.2,0M634.80,379.96a2.1,2.1 0 1,0 4.2,0a2.1,2.1 0 1,0 -4.2,0M646.05,379.96a2.1,2.1 0 1,0 4.2,0a2.1,2.1 0 1,0 -4.2,0M657.30,379.96a2.1,2.1 0 1,0 4.2,0a2.1,2.1 0 1,0 -4.2,0M668.55,379.96a2.1,2.1 0 1,0 4.2,0a2.1,2.1 0 1,0 -4.2,0M679.80,379.96a2.1,2.1 0 1,0 4.2,0a2.1,2.1 0 1,0 -4.2,0M691.05,379.96a2.1,2.1 0 1,0 4.2,0a2.1,2.1 0 1,0 -4.2,0M702.30,379.96a2.1,2.1 0 1,0 4.2,0a2.1,2.1 0 1,0 -4.2,0M713.55,379.96a2.1,2.1 0 1,0 4.2,0a2.1,2.1 0 1,0 -4.2,0M724.80,379.96a2.1,2.1 0 1,0 4.2,0a2.1,2.1 0 1,0 -4.2,0M736.05,379.96a2.1,2.1 0 1,0 4.2,0a2.1,2.1 0 1,0 -4.2,0M747.30,379.96a2.1,2.1 0 1,0 4.2,0a2.1,2.1 0 1,0 -4.2,0M758.55,379.96a2.1,2.1 0 1,0 4.2,0a2.1,2.1 0 1,0 -4.2,0M769.80,379.96a2.1,2.1 0 1,0 4.2,0a2.1,2.1 0 1,0 -4.2,0M781.05,379.96a2.1,2.1 0 1,0 4.2,0a2.1,2.1 0 1,0 -4.2,0M792.30,379.96a2.1,2.1 0 1,0 4.2,0a2.1,2.1 0 1,0 -4.2,0M803.55,379.96a2.1,2.1 0 1,0 4.2,0a2.1,2.1 0 1,0 -4.2,0M814.80,379.96a2.1,2.1 0 1,0 4.2,0a2.1,2.1 0 1,0 -4.2,0M826.05,379.96a2.1,2.1 0 1,0 4.2,0a2.1,2.1 0 1,0 -4.2,0M837.30,379.96a2.1,2.1 0 1,0 4.2,0a2.1,2.1 0 1,0 -4.2,0M848.55,379.96a2.1,2.1 0 1,0 4.2,0a2.1,2.1 0 1,0 -4.2,0M859.80,379.96a2.1,2.1 0 1,0 4.2,0a2.1,2.1 0 1,0 -4.2,0M871.05,379.96a2.1,2.1 0 1,0 4.2,0a2.1,2.1 0 1,0 -4.2,0M882.30,379.96a2.1,2.1 0 1,0 4.2,0a2.1,2.1 0 1,0 -4.2,0M893.55,379.96a2.1,2.1 0 1,0 4.2,0a2.1,2.1 0 1,0 -4.2,0M567.30,391.18a2.1,2.1 0 1,0 4.2,0a2.1,2.1 0 1,0 -4.2,0M578.55,391.18a2.1,2.1 0 1,0 4.2,0a2.1,2.1 0 1,0 -4.2,0M589.80,391.18a2.1,2.1 0 1,0 4.2,0a2.1,2.1 0 1,0 -4.2,0M601.05,391.18a2.1,2.1 0 1,0 4.2,0a2.1,2.1 0 1,0 -4.2,0M612.30,391.18a2.1,2.1 0 1,0 4.2,0a2.1,2.1 0 1,0 -4.2,0M623.55,391.18a2.1,2.1 0 1,0 4.2,0a2.1,2.1 0 1,0 -4.2,0M634.80,391.18a2.1,2.1 0 1,0 4.2,0a2.1,2.1 0 1,0 -4.2,0M646.05,391.18a2.1,2.1 0 1,0 4.2,0a2.1,2.1 0 1,0 -4.2,0M657.30,391.18a2.1,2.1 0 1,0 4.2,0a2.1,2.1 0 1,0 -4.2,0M668.55,391.18a2.1,2.1 0 1,0 4.2,0a2.1,2.1 0 1,0 -4.2,0M679.80,391.18a2.1,2.1 0 1,0 4.2,0a2.1,2.1 0 1,0 -4.2,0M691.05,391.18a2.1,2.1 0 1,0 4.2,0a2.1,2.1 0 1,0 -4.2,0M702.30,391.18a2.1,2.1 0 1,0 4.2,0a2.1,2.1 0 1,0 -4.2,0M713.55,391.18a2.1,2.1 0 1,0 4.2,0a2.1,2.1 0 1,0 -4.2,0M724.80,391.18a2.1,2.1 0 1,0 4.2,0a2.1,2.1 0 1,0 -4.2,0M736.05,391.18a2.1,2.1 0 1,0 4.2,0a2.1,2.1 0 1,0 -4.2,0M747.30,391.18a2.1,2.1 0 1,0 4.2,0a2.1,2.1 0 1,0 -4.2,0M758.55,391.18a2.1,2.1 0 1,0 4.2,0a2.1,2.1 0 1,0 -4.2,0M769.80,391.18a2.1,2.1 0 1,0 4.2,0a2.1,2.1 0 1,0 -4.2,0M781.05,391.18a2.1,2.1 0 1,0 4.2,0a2.1,2.1 0 1,0 -4.2,0M792.30,391.18a2.1,2.1 0 1,0 4.2,0a2.1,2.1 0 1,0 -4.2,0M803.55,391.18a2.1,2.1 0 1,0 4.2,0a2.1,2.1 0 1,0 -4.2,0M814.80,391.18a2.1,2.1 0 1,0 4.2,0a2.1,2.1 0 1,0 -4.2,0M826.05,391.18a2.1,2.1 0 1,0 4.2,0a2.1,2.1 0 1,0 -4.2,0M837.30,391.18a2.1,2.1 0 1,0 4.2,0a2.1,2.1 0 1,0 -4.2,0M848.55,391.18a2.1,2.1 0 1,0 4.2,0a2.1,2.1 0 1,0 -4.2,0M859.80,391.18a2.1,2.1 0 1,0 4.2,0a2.1,2.1 0 1,0 -4.2,0M871.05,391.18a2.1,2.1 0 1,0 4.2,0a2.1,2.1 0 1,0 -4.2,0M882.30,391.18a2.1,2.1 0 1,0 4.2,0a2.1,2.1 0 1,0 -4.2,0M893.55,391.18a2.1,2.1 0 1,0 4.2,0a2.1,2.1 0 1,0 -4.2,0M567.30,424.70a2.1,2.1 0 1,0 4.2,0a2.1,2.1 0 1,0 -4.2,0M578.55,424.70a2.1,2.1 0 1,0 4.2,0a2.1,2.1 0 1,0 -4.2,0M589.80,424.70a2.1,2.1 0 1,0 4.2,0a2.1,2.1 0 1,0 -4.2,0M601.05,424.70a2.1,2.1 0 1,0 4.2,0a2.1,2.1 0 1,0 -4.2,0M612.30,424.70a2.1,2.1 0 1,0 4.2,0a2.1,2.1 0 1,0 -4.2,0M623.55,424.70a2.1,2.1 0 1,0 4.2,0a2.1,2.1 0 1,0 -4.2,0M634.80,424.70a2.1,2.1 0 1,0 4.2,0a2.1,2.1 0 1,0 -4.2,0M646.05,424.70a2.1,2.1 0 1,0 4.2,0a2.1,2.1 0 1,0 -4.2,0M657.30,424.70a2.1,2.1 0 1,0 4.2,0a2.1,2.1 0 1,0 -4.2,0M668.55,424.70a2.1,2.1 0 1,0 4.2,0a2.1,2.1 0 1,0 -4.2,0M679.80,424.70a2.1,2.1 0 1,0 4.2,0a2.1,2.1 0 1,0 -4.2,0M691.05,424.70a2.1,2.1 0 1,0 4.2,0a2.1,2.1 0 1,0 -4.2,0M702.30,424.70a2.1,2.1 0 1,0 4.2,0a2.1,2.1 0 1,0 -4.2,0M713.55,424.70a2.1,2.1 0 1,0 4.2,0a2.1,2.1 0 1,0 -4.2,0M724.80,424.70a2.1,2.1 0 1,0 4.2,0a2.1,2.1 0 1,0 -4.2,0M736.05,424.70a2.1,2.1 0 1,0 4.2,0a2.1,2.1 0 1,0 -4.2,0M747.30,424.70a2.1,2.1 0 1,0 4.2,0a2.1,2.1 0 1,0 -4.2,0M758.55,424.70a2.1,2.1 0 1,0 4.2,0a2.1,2.1 0 1,0 -4.2,0M769.80,424.70a2.1,2.1 0 1,0 4.2,0a2.1,2.1 0 1,0 -4.2,0M781.05,424.70a2.1,2.1 0 1,0 4.2,0a2.1,2.1 0 1,0 -4.2,0M792.30,424.70a2.1,2.1 0 1,0 4.2,0a2.1,2.1 0 1,0 -4.2,0M803.55,424.70a2.1,2.1 0 1,0 4.2,0a2.1,2.1 0 1,0 -4.2,0M814.80,424.70a2.1,2.1 0 1,0 4.2,0a2.1,2.1 0 1,0 -4.2,0M826.05,424.70a2.1,2.1 0 1,0 4.2,0a2.1,2.1 0 1,0 -4.2,0M837.30,424.70a2.1,2.1 0 1,0 4.2,0a2.1,2.1 0 1,0 -4.2,0M848.55,424.70a2.1,2.1 0 1,0 4.2,0a2.1,2.1 0 1,0 -4.2,0M859.80,424.70a2.1,2.1 0 1,0 4.2,0a2.1,2.1 0 1,0 -4.2,0M871.05,424.70a2.1,2.1 0 1,0 4.2,0a2.1,2.1 0 1,0 -4.2,0M882.30,424.70a2.1,2.1 0 1,0 4.2,0a2.1,2.1 0 1,0 -4.2,0M893.55,424.70a2.1,2.1 0 1,0 4.2,0a2.1,2.1 0 1,0 -4.2,0M567.30,435.90a2.1,2.1 0 1,0 4.2,0a2.1,2.1 0 1,0 -4.2,0M578.55,435.90a2.1,2.1 0 1,0 4.2,0a2.1,2.1 0 1,0 -4.2,0M589.80,435.90a2.1,2.1 0 1,0 4.2,0a2.1,2.1 0 1,0 -4.2,0M601.05,435.90a2.1,2.1 0 1,0 4.2,0a2.1,2.1 0 1,0 -4.2,0M612.30,435.90a2.1,2.1 0 1,0 4.2,0a2.1,2.1 0 1,0 -4.2,0M623.55,435.90a2.1,2.1 0 1,0 4.2,0a2.1,2.1 0 1,0 -4.2,0M634.80,435.90a2.1,2.1 0 1,0 4.2,0a2.1,2.1 0 1,0 -4.2,0M646.05,435.90a2.1,2.1 0 1,0 4.2,0a2.1,2.1 0 1,0 -4.2,0M657.30,435.90a2.1,2.1 0 1,0 4.2,0a2.1,2.1 0 1,0 -4.2,0M668.55,435.90a2.1,2.1 0 1,0 4.2,0a2.1,2.1 0 1,0 -4.2,0M679.80,435.90a2.1,2.1 0 1,0 4.2,0a2.1,2.1 0 1,0 -4.2,0M691.05,435.90a2.1,2.1 0 1,0 4.2,0a2.1,2.1 0 1,0 -4.2,0M702.30,435.90a2.1,2.1 0 1,0 4.2,0a2.1,2.1 0 1,0 -4.2,0M713.55,435.90a2.1,2.1 0 1,0 4.2,0a2.1,2.1 0 1,0 -4.2,0M724.80,435.90a2.1,2.1 0 1,0 4.2,0a2.1,2.1 0 1,0 -4.2,0M736.05,435.90a2.1,2.1 0 1,0 4.2,0a2.1,2.1 0 1,0 -4.2,0M747.30,435.90a2.1,2.1 0 1,0 4.2,0a2.1,2.1 0 1,0 -4.2,0M758.55,435.90a2.1,2.1 0 1,0 4.2,0a2.1,2.1 0 1,0 -4.2,0M769.80,435.90a2.1,2.1 0 1,0 4.2,0a2.1,2.1 0 1,0 -4.2,0M781.05,435.90a2.1,2.1 0 1,0 4.2,0a2.1,2.1 0 1,0 -4.2,0M792.30,435.90a2.1,2.1 0 1,0 4.2,0a2.1,2.1 0 1,0 -4.2,0M803.55,435.90a2.1,2.1 0 1,0 4.2,0a2.1,2.1 0 1,0 -4.2,0M814.80,435.90a2.1,2.1 0 1,0 4.2,0a2.1,2.1 0 1,0 -4.2,0M826.05,435.90a2.1,2.1 0 1,0 4.2,0a2.1,2.1 0 1,0 -4.2,0M837.30,435.90a2.1,2.1 0 1,0 4.2,0a2.1,2.1 0 1,0 -4.2,0M848.55,435.90a2.1,2.1 0 1,0 4.2,0a2.1,2.1 0 1,0 -4.2,0M859.80,435.90a2.1,2.1 0 1,0 4.2,0a2.1,2.1 0 1,0 -4.2,0M871.05,435.90a2.1,2.1 0 1,0 4.2,0a2.1,2.1 0 1,0 -4.2,0M882.30,435.90a2.1,2.1 0 1,0 4.2,0a2.1,2.1 0 1,0 -4.2,0M893.55,435.90a2.1,2.1 0 1,0 4.2,0a2.1,2.1 0 1,0 -4.2,0M567.30,447.10a2.1,2.1 0 1,0 4.2,0a2.1,2.1 0 1,0 -4.2,0M578.55,447.10a2.1,2.1 0 1,0 4.2,0a2.1,2.1 0 1,0 -4.2,0M589.80,447.10a2.1,2.1 0 1,0 4.2,0a2.1,2.1 0 1,0 -4.2,0M601.05,447.10a2.1,2.1 0 1,0 4.2,0a2.1,2.1 0 1,0 -4.2,0M612.30,447.10a2.1,2.1 0 1,0 4.2,0a2.1,2.1 0 1,0 -4.2,0M623.55,447.10a2.1,2.1 0 1,0 4.2,0a2.1,2.1 0 1,0 -4.2,0M634.80,447.10a2.1,2.1 0 1,0 4.2,0a2.1,2.1 0 1,0 -4.2,0M646.05,447.10a2.1,2.1 0 1,0 4.2,0a2.1,2.1 0 1,0 -4.2,0M657.30,447.10a2.1,2.1 0 1,0 4.2,0a2.1,2.1 0 1,0 -4.2,0M668.55,447.10a2.1,2.1 0 1,0 4.2,0a2.1,2.1 0 1,0 -4.2,0M679.80,447.10a2.1,2.1 0 1,0 4.2,0a2.1,2.1 0 1,0 -4.2,0M691.05,447.10a2.1,2.1 0 1,0 4.2,0a2.1,2.1 0 1,0 -4.2,0M702.30,447.10a2.1,2.1 0 1,0 4.2,0a2.1,2.1 0 1,0 -4.2,0M713.55,447.10a2.1,2.1 0 1,0 4.2,0a2.1,2.1 0 1,0 -4.2,0M724.80,447.10a2.1,2.1 0 1,0 4.2,0a2.1,2.1 0 1,0 -4.2,0M736.05,447.10a2.1,2.1 0 1,0 4.2,0a2.1,2.1 0 1,0 -4.2,0M747.30,447.10a2.1,2.1 0 1,0 4.2,0a2.1,2.1 0 1,0 -4.2,0M758.55,447.10a2.1,2.1 0 1,0 4.2,0a2.1,2.1 0 1,0 -4.2,0M769.80,447.10a2.1,2.1 0 1,0 4.2,0a2.1,2.1 0 1,0 -4.2,0M781.05,447.10a2.1,2.1 0 1,0 4.2,0a2.1,2.1 0 1,0 -4.2,0M792.30,447.10a2.1,2.1 0 1,0 4.2,0a2.1,2.1 0 1,0 -4.2,0M803.55,447.10a2.1,2.1 0 1,0 4.2,0a2.1,2.1 0 1,0 -4.2,0M814.80,447.10a2.1,2.1 0 1,0 4.2,0a2.1,2.1 0 1,0 -4.2,0M826.05,447.10a2.1,2.1 0 1,0 4.2,0a2.1,2.1 0 1,0 -4.2,0M837.30,447.10a2.1,2.1 0 1,0 4.2,0a2.1,2.1 0 1,0 -4.2,0M848.55,447.10a2.1,2.1 0 1,0 4.2,0a2.1,2.1 0 1,0 -4.2,0M859.80,447.10a2.1,2.1 0 1,0 4.2,0a2.1,2.1 0 1,0 -4.2,0M871.05,447.10a2.1,2.1 0 1,0 4.2,0a2.1,2.1 0 1,0 -4.2,0M882.30,447.10a2.1,2.1 0 1,0 4.2,0a2.1,2.1 0 1,0 -4.2,0M893.55,447.10a2.1,2.1 0 1,0 4.2,0a2.1,2.1 0 1,0 -4.2,0M567.30,458.30a2.1,2.1 0 1,0 4.2,0a2.1,2.1 0 1,0 -4.2,0M578.55,458.30a2.1,2.1 0 1,0 4.2,0a2.1,2.1 0 1,0 -4.2,0M589.80,458.30a2.1,2.1 0 1,0 4.2,0a2.1,2.1 0 1,0 -4.2,0M601.05,458.30a2.1,2.1 0 1,0 4.2,0a2.1,2.1 0 1,0 -4.2,0M612.30,458.30a2.1,2.1 0 1,0 4.2,0a2.1,2.1 0 1,0 -4.2,0M623.55,458.30a2.1,2.1 0 1,0 4.2,0a2.1,2.1 0 1,0 -4.2,0M634.80,458.30a2.1,2.1 0 1,0 4.2,0a2.1,2.1 0 1,0 -4.2,0M646.05,458.30a2.1,2.1 0 1,0 4.2,0a2.1,2.1 0 1,0 -4.2,0M657.30,458.30a2.1,2.1 0 1,0 4.2,0a2.1,2.1 0 1,0 -4.2,0M668.55,458.30a2.1,2.1 0 1,0 4.2,0a2.1,2.1 0 1,0 -4.2,0M679.80,458.30a2.1,2.1 0 1,0 4.2,0a2.1,2.1 0 1,0 -4.2,0M691.05,458.30a2.1,2.1 0 1,0 4.2,0a2.1,2.1 0 1,0 -4.2,0M702.30,458.30a2.1,2.1 0 1,0 4.2,0a2.1,2.1 0 1,0 -4.2,0M713.55,458.30a2.1,2.1 0 1,0 4.2,0a2.1,2.1 0 1,0 -4.2,0M724.80,458.30a2.1,2.1 0 1,0 4.2,0a2.1,2.1 0 1,0 -4.2,0M736.05,458.30a2.1,2.1 0 1,0 4.2,0a2.1,2.1 0 1,0 -4.2,0M747.30,458.30a2.1,2.1 0 1,0 4.2,0a2.1,2.1 0 1,0 -4.2,0M758.55,458.30a2.1,2.1 0 1,0 4.2,0a2.1,2.1 0 1,0 -4.2,0M769.80,458.30a2.1,2.1 0 1,0 4.2,0a2.1,2.1 0 1,0 -4.2,0M781.05,458.30a2.1,2.1 0 1,0 4.2,0a2.1,2.1 0 1,0 -4.2,0M792.30,458.30a2.1,2.1 0 1,0 4.2,0a2.1,2.1 0 1,0 -4.2,0M803.55,458.30a2.1,2.1 0 1,0 4.2,0a2.1,2.1 0 1,0 -4.2,0M814.80,458.30a2.1,2.1 0 1,0 4.2,0a2.1,2.1 0 1,0 -4.2,0M826.05,458.30a2.1,2.1 0 1,0 4.2,0a2.1,2.1 0 1,0 -4.2,0M837.30,458.30a2.1,2.1 0 1,0 4.2,0a2.1,2.1 0 1,0 -4.2,0M848.55,458.30a2.1,2.1 0 1,0 4.2,0a2.1,2.1 0 1,0 -4.2,0M859.80,458.30a2.1,2.1 0 1,0 4.2,0a2.1,2.1 0 1,0 -4.2,0M871.05,458.30a2.1,2.1 0 1,0 4.2,0a2.1,2.1 0 1,0 -4.2,0M882.30,458.30a2.1,2.1 0 1,0 4.2,0a2.1,2.1 0 1,0 -4.2,0M893.55,458.30a2.1,2.1 0 1,0 4.2,0a2.1,2.1 0 1,0 -4.2,0M567.30,469.50a2.1,2.1 0 1,0 4.2,0a2.1,2.1 0 1,0 -4.2,0M578.55,469.50a2.1,2.1 0 1,0 4.2,0a2.1,2.1 0 1,0 -4.2,0M589.80,469.50a2.1,2.1 0 1,0 4.2,0a2.1,2.1 0 1,0 -4.2,0M601.05,469.50a2.1,2.1 0 1,0 4.2,0a2.1,2.1 0 1,0 -4.2,0M612.30,469.50a2.1,2.1 0 1,0 4.2,0a2.1,2.1 0 1,0 -4.2,0M623.55,469.50a2.1,2.1 0 1,0 4.2,0a2.1,2.1 0 1,0 -4.2,0M634.80,469.50a2.1,2.1 0 1,0 4.2,0a2.1,2.1 0 1,0 -4.2,0M646.05,469.50a2.1,2.1 0 1,0 4.2,0a2.1,2.1 0 1,0 -4.2,0M657.30,469.50a2.1,2.1 0 1,0 4.2,0a2.1,2.1 0 1,0 -4.2,0M668.55,469.50a2.1,2.1 0 1,0 4.2,0a2.1,2.1 0 1,0 -4.2,0M679.80,469.50a2.1,2.1 0 1,0 4.2,0a2.1,2.1 0 1,0 -4.2,0M691.05,469.50a2.1,2.1 0 1,0 4.2,0a2.1,2.1 0 1,0 -4.2,0M702.30,469.50a2.1,2.1 0 1,0 4.2,0a2.1,2.1 0 1,0 -4.2,0M713.55,469.50a2.1,2.1 0 1,0 4.2,0a2.1,2.1 0 1,0 -4.2,0M724.80,469.50a2.1,2.1 0 1,0 4.2,0a2.1,2.1 0 1,0 -4.2,0M736.05,469.50a2.1,2.1 0 1,0 4.2,0a2.1,2.1 0 1,0 -4.2,0M747.30,469.50a2.1,2.1 0 1,0 4.2,0a2.1,2.1 0 1,0 -4.2,0M758.55,469.50a2.1,2.1 0 1,0 4.2,0a2.1,2.1 0 1,0 -4.2,0M769.80,469.50a2.1,2.1 0 1,0 4.2,0a2.1,2.1 0 1,0 -4.2,0M781.05,469.50a2.1,2.1 0 1,0 4.2,0a2.1,2.1 0 1,0 -4.2,0M792.30,469.50a2.1,2.1 0 1,0 4.2,0a2.1,2.1 0 1,0 -4.2,0M803.55,469.50a2.1,2.1 0 1,0 4.2,0a2.1,2.1 0 1,0 -4.2,0M814.80,469.50a2.1,2.1 0 1,0 4.2,0a2.1,2.1 0 1,0 -4.2,0M826.05,469.50a2.1,2.1 0 1,0 4.2,0a2.1,2.1 0 1,0 -4.2,0M837.30,469.50a2.1,2.1 0 1,0 4.2,0a2.1,2.1 0 1,0 -4.2,0M848.55,469.50a2.1,2.1 0 1,0 4.2,0a2.1,2.1 0 1,0 -4.2,0M859.80,469.50a2.1,2.1 0 1,0 4.2,0a2.1,2.1 0 1,0 -4.2,0M871.05,469.50a2.1,2.1 0 1,0 4.2,0a2.1,2.1 0 1,0 -4.2,0M882.30,469.50a2.1,2.1 0 1,0 4.2,0a2.1,2.1 0 1,0 -4.2,0M893.55,469.50a2.1,2.1 0 1,0 4.2,0a2.1,2.1 0 1,0 -4.2,0M567.30,503.40a2.1,2.1 0 1,0 4.2,0a2.1,2.1 0 1,0 -4.2,0M578.55,503.40a2.1,2.1 0 1,0 4.2,0a2.1,2.1 0 1,0 -4.2,0M589.80,503.40a2.1,2.1 0 1,0 4.2,0a2.1,2.1 0 1,0 -4.2,0M601.05,503.40a2.1,2.1 0 1,0 4.2,0a2.1,2.1 0 1,0 -4.2,0M612.30,503.40a2.1,2.1 0 1,0 4.2,0a2.1,2.1 0 1,0 -4.2,0M623.55,503.40a2.1,2.1 0 1,0 4.2,0a2.1,2.1 0 1,0 -4.2,0M634.80,503.40a2.1,2.1 0 1,0 4.2,0a2.1,2.1 0 1,0 -4.2,0M646.05,503.40a2.1,2.1 0 1,0 4.2,0a2.1,2.1 0 1,0 -4.2,0M657.30,503.40a2.1,2.1 0 1,0 4.2,0a2.1,2.1 0 1,0 -4.2,0M668.55,503.40a2.1,2.1 0 1,0 4.2,0a2.1,2.1 0 1,0 -4.2,0M679.80,503.40a2.1,2.1 0 1,0 4.2,0a2.1,2.1 0 1,0 -4.2,0M691.05,503.40a2.1,2.1 0 1,0 4.2,0a2.1,2.1 0 1,0 -4.2,0M702.30,503.40a2.1,2.1 0 1,0 4.2,0a2.1,2.1 0 1,0 -4.2,0M713.55,503.40a2.1,2.1 0 1,0 4.2,0a2.1,2.1 0 1,0 -4.2,0M724.80,503.40a2.1,2.1 0 1,0 4.2,0a2.1,2.1 0 1,0 -4.2,0M736.05,503.40a2.1,2.1 0 1,0 4.2,0a2.1,2.1 0 1,0 -4.2,0M747.30,503.40a2.1,2.1 0 1,0 4.2,0a2.1,2.1 0 1,0 -4.2,0M758.55,503.40a2.1,2.1 0 1,0 4.2,0a2.1,2.1 0 1,0 -4.2,0M769.80,503.40a2.1,2.1 0 1,0 4.2,0a2.1,2.1 0 1,0 -4.2,0M781.05,503.40a2.1,2.1 0 1,0 4.2,0a2.1,2.1 0 1,0 -4.2,0M792.30,503.40a2.1,2.1 0 1,0 4.2,0a2.1,2.1 0 1,0 -4.2,0M803.55,503.40a2.1,2.1 0 1,0 4.2,0a2.1,2.1 0 1,0 -4.2,0M814.80,503.40a2.1,2.1 0 1,0 4.2,0a2.1,2.1 0 1,0 -4.2,0M826.05,503.40a2.1,2.1 0 1,0 4.2,0a2.1,2.1 0 1,0 -4.2,0M837.30,503.40a2.1,2.1 0 1,0 4.2,0a2.1,2.1 0 1,0 -4.2,0M848.55,503.40a2.1,2.1 0 1,0 4.2,0a2.1,2.1 0 1,0 -4.2,0M859.80,503.40a2.1,2.1 0 1,0 4.2,0a2.1,2.1 0 1,0 -4.2,0M871.05,503.40a2.1,2.1 0 1,0 4.2,0a2.1,2.1 0 1,0 -4.2,0M882.30,503.40a2.1,2.1 0 1,0 4.2,0a2.1,2.1 0 1,0 -4.2,0M893.55,503.40a2.1,2.1 0 1,0 4.2,0a2.1,2.1 0 1,0 -4.2,0M567.30,514.80a2.1,2.1 0 1,0 4.2,0a2.1,2.1 0 1,0 -4.2,0M578.55,514.80a2.1,2.1 0 1,0 4.2,0a2.1,2.1 0 1,0 -4.2,0M589.80,514.80a2.1,2.1 0 1,0 4.2,0a2.1,2.1 0 1,0 -4.2,0M601.05,514.80a2.1,2.1 0 1,0 4.2,0a2.1,2.1 0 1,0 -4.2,0M612.30,514.80a2.1,2.1 0 1,0 4.2,0a2.1,2.1 0 1,0 -4.2,0M623.55,514.80a2.1,2.1 0 1,0 4.2,0a2.1,2.1 0 1,0 -4.2,0M634.80,514.80a2.1,2.1 0 1,0 4.2,0a2.1,2.1 0 1,0 -4.2,0M646.05,514.80a2.1,2.1 0 1,0 4.2,0a2.1,2.1 0 1,0 -4.2,0M657.30,514.80a2.1,2.1 0 1,0 4.2,0a2.1,2.1 0 1,0 -4.2,0M668.55,514.80a2.1,2.1 0 1,0 4.2,0a2.1,2.1 0 1,0 -4.2,0M679.80,514.80a2.1,2.1 0 1,0 4.2,0a2.1,2.1 0 1,0 -4.2,0M691.05,514.80a2.1,2.1 0 1,0 4.2,0a2.1,2.1 0 1,0 -4.2,0M702.30,514.80a2.1,2.1 0 1,0 4.2,0a2.1,2.1 0 1,0 -4.2,0M713.55,514.80a2.1,2.1 0 1,0 4.2,0a2.1,2.1 0 1,0 -4.2,0M724.80,514.80a2.1,2.1 0 1,0 4.2,0a2.1,2.1 0 1,0 -4.2,0M736.05,514.80a2.1,2.1 0 1,0 4.2,0a2.1,2.1 0 1,0 -4.2,0M747.30,514.80a2.1,2.1 0 1,0 4.2,0a2.1,2.1 0 1,0 -4.2,0M758.55,514.80a2.1,2.1 0 1,0 4.2,0a2.1,2.1 0 1,0 -4.2,0M769.80,514.80a2.1,2.1 0 1,0 4.2,0a2.1,2.1 0 1,0 -4.2,0M781.05,514.80a2.1,2.1 0 1,0 4.2,0a2.1,2.1 0 1,0 -4.2,0M792.30,514.80a2.1,2.1 0 1,0 4.2,0a2.1,2.1 0 1,0 -4.2,0M803.55,514.80a2.1,2.1 0 1,0 4.2,0a2.1,2.1 0 1,0 -4.2,0M814.80,514.80a2.1,2.1 0 1,0 4.2,0a2.1,2.1 0 1,0 -4.2,0M826.05,514.80a2.1,2.1 0 1,0 4.2,0a2.1,2.1 0 1,0 -4.2,0M837.30,514.80a2.1,2.1 0 1,0 4.2,0a2.1,2.1 0 1,0 -4.2,0M848.55,514.80a2.1,2.1 0 1,0 4.2,0a2.1,2.1 0 1,0 -4.2,0M859.80,514.80a2.1,2.1 0 1,0 4.2,0a2.1,2.1 0 1,0 -4.2,0M871.05,514.80a2.1,2.1 0 1,0 4.2,0a2.1,2.1 0 1,0 -4.2,0M882.30,514.80a2.1,2.1 0 1,0 4.2,0a2.1,2.1 0 1,0 -4.2,0M893.55,514.80a2.1,2.1 0 1,0 4.2,0a2.1,2.1 0 1,0 -4.2,0" fill="#474747"/>
<rect x="554.8000000000001" y="294.8" width="1.8" height="5.6" fill="#6a6a6a"/>
<rect x="554.8000000000001" y="494.8" width="1.8" height="5.6" fill="#6a6a6a"/>
<rect x="907.1" y="294.8" width="1.8" height="5.6" fill="#6a6a6a"/>
<rect x="907.1" y="494.8" width="1.8" height="5.6" fill="#6a6a6a"/>
<path d="M553.1,317.2 H558.3000000000001 M555.7,314.59999999999997 V319.8" stroke="#b06070" stroke-width="1.6"/>
<path d="M553.1,518.4 H558.3000000000001 M555.7,515.8 V521.0" stroke="#b06070" stroke-width="1.6"/>
<path d="M905.1999999999999,317.2 H910.4 M907.8,314.59999999999997 V319.8" stroke="#b06070" stroke-width="1.6"/>
<path d="M905.1999999999999,518.4 H910.4 M907.8,515.8 V521.0" stroke="#b06070" stroke-width="1.6"/>
<text transform="translate(561,346.3) rotate(-90)" font-size="6.5" fill="#505050" font-weight="bold" text-anchor="middle" dominant-baseline="middle">j</text>
<text transform="translate(908,346.3) rotate(-90)" font-size="6.5" fill="#505050" font-weight="bold" text-anchor="middle" dominant-baseline="middle">j</text>
<text transform="translate(561,357.5) rotate(-90)" font-size="6.5" fill="#505050" font-weight="bold" text-anchor="middle" dominant-baseline="middle">i</text>
<text transform="translate(908,357.5) rotate(-90)" font-size="6.5" fill="#505050" font-weight="bold" text-anchor="middle" dominant-baseline="middle">i</text>
<text transform="translate(561,368.7) rotate(-90)" font-size="6.5" fill="#505050" font-weight="bold" text-anchor="middle" dominant-baseline="middle">h</text>
<text transform="translate(908,368.7) rotate(-90)" font-size="6.5" fill="#505050" font-weight="bold" text-anchor="middle" dominant-baseline="middle">h</text>
<text transform="translate(561,380.0) rotate(-90)" font-size="6.5" fill="#505050" font-weight="bold" text-anchor="middle" dominant-baseline="middle">g</text>
<text transform="translate(908,380.0) rotate(-90)" font-size="6.5" fill="#505050" font-weight="bold" text-anchor="middle" dominant-baseline="middle">g</text>
<text transform="translate(561,391.2) rotate(-90)" font-size="6.5" fill="#505050" font-weight="bold" text-anchor="middle" dominant-baseline="middle">f</text>
<text transform="translate(908,391.2) rotate(-90)" font-size="6.5" fill="#505050" font-weight="bold" text-anchor="middle" dominant-baseline="middle">f</text>
<text transform="translate(561,424.7) rotate(-90)" font-size="6.5" fill="#505050" font-weight="bold" text-anchor="middle" dominant-baseline="middle">e</text>
<text transform="translate(908,424.7) rotate(-90)" font-size="6.5" fill="#505050" font-weight="bold" text-anchor="middle" dominant-baseline="middle">e</text>
<text transform="translate(561,435.9) rotate(-90)" font-size="6.5" fill="#505050" font-weight="bold" text-anchor="middle" dominant-baseline="middle">d</text>
<text transform="translate(908,435.9) rotate(-90)" font-size="6.5" fill="#505050" font-weight="bold" text-anchor="middle" dominant-baseline="middle">d</text>
<text transform="translate(561,447.1) rotate(-90)" font-size="6.5" fill="#505050" font-weight="bold" text-anchor="middle" dominant-baseline="middle">c</text>
<text transform="translate(908,447.1) rotate(-90)" font-size="6.5" fill="#505050" font-weight="bold" text-anchor="middle" dominant-baseline="middle">c</text>
<text transform="translate(561,458.3) rotate(-90)" font-size="6.5" fill="#505050" font-weight="bold" text-anchor="middle" dominant-baseline="middle">b</text>
<text transform="translate(908,458.3) rotate(-90)" font-size="6.5" fill="#505050" font-weight="bold" text-anchor="middle" dominant-baseline="middle">b</text>
<text transform="translate(561,469.5) rotate(-90)" font-size="6.5" fill="#505050" font-weight="bold" text-anchor="middle" dominant-baseline="middle">a</text>
<text transform="translate(908,469.5) rotate(-90)" font-size="6.5" fill="#505050" font-weight="bold" text-anchor="middle" dominant-baseline="middle">a</text>
<text transform="translate(569.4,335.5) rotate(-90)" font-size="6" fill="#505050" font-weight="bold" text-anchor="middle" dominant-baseline="middle">1</text>
<text transform="translate(569.4,480) rotate(-90)" font-size="6" fill="#505050" font-weight="bold" text-anchor="middle" dominant-baseline="middle">1</text>
<text transform="translate(580.6,335.5) rotate(-90)" font-size="6" fill="#505050" font-weight="bold" text-anchor="middle" dominant-baseline="middle">2</text>
<text transform="translate(580.6,480) rotate(-90)" font-size="6" fill="#505050" font-weight="bold" text-anchor="middle" dominant-baseline="middle">2</text>
<text transform="translate(591.9,335.5) rotate(-90)" font-size="6" fill="#505050" font-weight="bold" text-anchor="middle" dominant-baseline="middle">3</text>
<text transform="translate(591.9,480) rotate(-90)" font-size="6" fill="#505050" font-weight="bold" text-anchor="middle" dominant-baseline="middle">3</text>
<text transform="translate(603.1,335.5) rotate(-90)" font-size="6" fill="#505050" font-weight="bold" text-anchor="middle" dominant-baseline="middle">4</text>
<text transform="translate(603.1,480) rotate(-90)" font-size="6" fill="#505050" font-weight="bold" text-anchor="middle" dominant-baseline="middle">4</text>
<text transform="translate(614.4,335.5) rotate(-90)" font-size="6" fill="#505050" font-weight="bold" text-anchor="middle" dominant-baseline="middle">5</text>
<text transform="translate(614.4,480) rotate(-90)" font-size="6" fill="#505050" font-weight="bold" text-anchor="middle" dominant-baseline="middle">5</text>
<text transform="translate(625.6,335.5) rotate(-90)" font-size="6" fill="#505050" font-weight="bold" text-anchor="middle" dominant-baseline="middle">6</text>
<text transform="translate(625.6,480) rotate(-90)" font-size="6" fill="#505050" font-weight="bold" text-anchor="middle" dominant-baseline="middle">6</text>
<text transform="translate(636.9,335.5) rotate(-90)" font-size="6" fill="#505050" font-weight="bold" text-anchor="middle" dominant-baseline="middle">7</text>
<text transform="translate(636.9,480) rotate(-90)" font-size="6" fill="#505050" font-weight="bold" text-anchor="middle" dominant-baseline="middle">7</text>
<text transform="translate(648.1,335.5) rotate(-90)" font-size="6" fill="#505050" font-weight="bold" text-anchor="middle" dominant-baseline="middle">8</text>
<text transform="translate(648.1,480) rotate(-90)" font-size="6" fill="#505050" font-weight="bold" text-anchor="middle" dominant-baseline="middle">8</text>
<text transform="translate(659.4,335.5) rotate(-90)" font-size="6" fill="#505050" font-weight="bold" text-anchor="middle" dominant-baseline="middle">9</text>
<text transform="translate(659.4,480) rotate(-90)" font-size="6" fill="#505050" font-weight="bold" text-anchor="middle" dominant-baseline="middle">9</text>
<text transform="translate(670.6,335.5) rotate(-90)" font-size="6" fill="#505050" font-weight="bold" text-anchor="middle" dominant-baseline="middle">10</text>
<text transform="translate(670.6,480) rotate(-90)" font-size="6" fill="#505050" font-weight="bold" text-anchor="middle" dominant-baseline="middle">10</text>
<text transform="translate(681.9,335.5) rotate(-90)" font-size="6" fill="#505050" font-weight="bold" text-anchor="middle" dominant-baseline="middle">11</text>
<text transform="translate(681.9,480) rotate(-90)" font-size="6" fill="#505050" font-weight="bold" text-anchor="middle" dominant-baseline="middle">11</text>
<text transform="translate(693.1,335.5) rotate(-90)" font-size="6" fill="#505050" font-weight="bold" text-anchor="middle" dominant-baseline="middle">12</text>
<text transform="translate(693.1,480) rotate(-90)" font-size="6" fill="#505050" font-weight="bold" text-anchor="middle" dominant-baseline="middle">12</text>
<text transform="translate(704.4,335.5) rotate(-90)" font-size="6" fill="#505050" font-weight="bold" text-anchor="middle" dominant-baseline="middle">13</text>
<text transform="translate(704.4,480) rotate(-90)" font-size="6" fill="#505050" font-weight="bold" text-anchor="middle" dominant-baseline="middle">13</text>
<text transform="translate(715.6,335.5) rotate(-90)" font-size="6" fill="#505050" font-weight="bold" text-anchor="middle" dominant-baseline="middle">14</text>
<text transform="translate(715.6,480) rotate(-90)" font-size="6" fill="#505050" font-weight="bold" text-anchor="middle" dominant-baseline="middle">14</text>
<text transform="translate(726.9,335.5) rotate(-90)" font-size="6" fill="#505050" font-weight="bold" text-anchor="middle" dominant-baseline="middle">15</text>
<text transform="translate(726.9,480) rotate(-90)" font-size="6" fill="#505050" font-weight="bold" text-anchor="middle" dominant-baseline="middle">15</text>
<text transform="translate(738.1,335.5) rotate(-90)" font-size="6" fill="#505050" font-weight="bold" text-anchor="middle" dominant-baseline="middle">16</text>
<text transform="translate(738.1,480) rotate(-90)" font-size="6" fill="#505050" font-weight="bold" text-anchor="middle" dominant-baseline="middle">16</text>
<text transform="translate(749.4,335.5) rotate(-90)" font-size="6" fill="#505050" font-weight="bold" text-anchor="middle" dominant-baseline="middle">17</text>
<text transform="translate(749.4,480) rotate(-90)" font-size="6" fill="#505050" font-weight="bold" text-anchor="middle" dominant-baseline="middle">17</text>
<text transform="translate(760.6,335.5) rotate(-90)" font-size="6" fill="#505050" font-weight="bold" text-anchor="middle" dominant-baseline="middle">18</text>
<text transform="translate(760.6,480) rotate(-90)" font-size="6" fill="#505050" font-weight="bold" text-anchor="middle" dominant-baseline="middle">18</text>
<text transform="translate(771.9,335.5) rotate(-90)" font-size="6" fill="#505050" font-weight="bold" text-anchor="middle" dominant-baseline="middle">19</text>
<text transform="translate(771.9,480) rotate(-90)" font-size="6" fill="#505050" font-weight="bold" text-anchor="middle" dominant-baseline="middle">19</text>
<text transform="translate(783.1,335.5) rotate(-90)" font-size="6" fill="#505050" font-weight="bold" text-anchor="middle" dominant-baseline="middle">20</text>
<text transform="translate(783.1,480) rotate(-90)" font-size="6" fill="#505050" font-weight="bold" text-anchor="middle" dominant-baseline="middle">20</text>
<text transform="translate(794.4,335.5) rotate(-90)" font-size="6" fill="#505050" font-weight="bold" text-anchor="middle" dominant-baseline="middle">21</text>
<text transform="translate(794.4,480) rotate(-90)" font-size="6" fill="#505050" font-weight="bold" text-anchor="middle" dominant-baseline="middle">21</text>
<text transform="translate(805.6,335.5) rotate(-90)" font-size="6" fill="#505050" font-weight="bold" text-anchor="middle" dominant-baseline="middle">22</text>
<text transform="translate(805.6,480) rotate(-90)" font-size="6" fill="#505050" font-weight="bold" text-anchor="middle" dominant-baseline="middle">22</text>
<text transform="translate(816.9,335.5) rotate(-90)" font-size="6" fill="#505050" font-weight="bold" text-anchor="middle" dominant-baseline="middle">23</text>
<text transform="translate(816.9,480) rotate(-90)" font-size="6" fill="#505050" font-weight="bold" text-anchor="middle" dominant-baseline="middle">23</text>
<text transform="translate(828.1,335.5) rotate(-90)" font-size="6" fill="#505050" font-weight="bold" text-anchor="middle" dominant-baseline="middle">24</text>
<text transform="translate(828.1,480) rotate(-90)" font-size="6" fill="#505050" font-weight="bold" text-anchor="middle" dominant-baseline="middle">24</text>
<text transform="translate(839.4,335.5) rotate(-90)" font-size="6" fill="#505050" font-weight="bold" text-anchor="middle" dominant-baseline="middle">25</text>
<text transform="translate(839.4,480) rotate(-90)" font-size="6" fill="#505050" font-weight="bold" text-anchor="middle" dominant-baseline="middle">25</text>
<text transform="translate(850.6,335.5) rotate(-90)" font-size="6" fill="#505050" font-weight="bold" text-anchor="middle" dominant-baseline="middle">26</text>
<text transform="translate(850.6,480) rotate(-90)" font-size="6" fill="#505050" font-weight="bold" text-anchor="middle" dominant-baseline="middle">26</text>
<text transform="translate(861.9,335.5) rotate(-90)" font-size="6" fill="#505050" font-weight="bold" text-anchor="middle" dominant-baseline="middle">27</text>
<text transform="translate(861.9,480) rotate(-90)" font-size="6" fill="#505050" font-weight="bold" text-anchor="middle" dominant-baseline="middle">27</text>
<text transform="translate(873.1,335.5) rotate(-90)" font-size="6" fill="#505050" font-weight="bold" text-anchor="middle" dominant-baseline="middle">28</text>
<text transform="translate(873.1,480) rotate(-90)" font-size="6" fill="#505050" font-weight="bold" text-anchor="middle" dominant-baseline="middle">28</text>
<text transform="translate(884.4,335.5) rotate(-90)" font-size="6" fill="#505050" font-weight="bold" text-anchor="middle" dominant-baseline="middle">29</text>
<text transform="translate(884.4,480) rotate(-90)" font-size="6" fill="#505050" font-weight="bold" text-anchor="middle" dominant-baseline="middle">29</text>
<text transform="translate(895.6,335.5) rotate(-90)" font-size="6" fill="#505050" font-weight="bold" text-anchor="middle" dominant-baseline="middle">30</text>
<text transform="translate(895.6,480) rotate(-90)" font-size="6" fill="#505050" font-weight="bold" text-anchor="middle" dominant-baseline="middle">30</text>
<g stroke="#858585" stroke-width="1.4" fill="none"><path d="M731.8,413 V417 L727.5,424"/><path d="M738.4,413 V424"/><path d="M745,413 V417 L749.5,424"/></g>
<path d="M725.5,414.2 L725.5,391 Q725.5,383 734,383 L742.8,383 Q751.3,383 751.3,391 L751.3,414.2 Z" fill="#333"/>
<rect x="726" y="390.6" width="24.8" height="1.1" fill="#505050"/>
<rect x="624.6" y="586.8" width="354.4" height="159" rx="2" fill="#4ea565"/>
<circle cx="635.3" cy="596.5" r="5.5" fill="#fbfbfb"/>
<circle cx="635.3" cy="735.7" r="5.5" fill="#fbfbfb"/>
<circle cx="969.1" cy="596.9" r="5.5" fill="#fbfbfb"/>
<circle cx="969.1" cy="736.5" r="5.5" fill="#fbfbfb"/>
<circle cx="655.5" cy="592.6" r="3.3" fill="#eef2dc"/>
<text transform="translate(657.3,597.8) rotate(90)" font-size="5" font-weight="bold" fill="#e0f0e0">GND</text>
<circle cx="666.8" cy="592.6" r="3.3" fill="#eef2dc"/>
<text transform="translate(668.6,597.8) rotate(90)" font-size="5" font-weight="bold" fill="#e0f0e0">VCC</text>
<circle cx="678.1" cy="592.6" r="3.3" fill="#eef2dc"/>
<text transform="translate(679.9,597.8) rotate(90)" font-size="5" font-weight="bold" fill="#e0f0e0">V0</text>
<circle cx="689.3" cy="592.6" r="3.3" fill="#eef2dc"/>
<text transform="translate(691.1,597.8) rotate(90)" font-size="5" font-weight="bold" fill="#e0f0e0">RS</text>
<circle cx="700.6" cy="592.6" r="3.3" fill="#eef2dc"/>
<text transform="translate(702.4,597.8) rotate(90)" font-size="5" font-weight="bold" fill="#e0f0e0">RW</text>
<circle cx="711.9" cy="592.6" r="3.3" fill="#eef2dc"/>
<text transform="translate(713.7,597.8) rotate(90)" font-size="5" font-weight="bold" fill="#e0f0e0">E</text>
<circle cx="723.2" cy="592.6" r="3.3" fill="#eef2dc"/>
<text transform="translate(725.0,597.8) rotate(90)" font-size="5" font-weight="bold" fill="#e0f0e0">DB0</text>
<circle cx="734.5" cy="592.6" r="3.3" fill="#eef2dc"/>
<text transform="translate(736.3,597.8) rotate(90)" font-size="5" font-weight="bold" fill="#e0f0e0">DB1</text>
<circle cx="745.7" cy="592.6" r="3.3" fill="#eef2dc"/>
<text transform="translate(747.5,597.8) rotate(90)" font-size="5" font-weight="bold" fill="#e0f0e0">DB2</text>
<circle cx="757.0" cy="592.6" r="3.3" fill="#eef2dc"/>
<text transform="translate(758.8,597.8) rotate(90)" font-size="5" font-weight="bold" fill="#e0f0e0">DB3</text>
<circle cx="768.3" cy="592.6" r="3.3" fill="#eef2dc"/>
<text transform="translate(770.1,597.8) rotate(90)" font-size="5" font-weight="bold" fill="#e0f0e0">DB4</text>
<circle cx="779.6" cy="592.6" r="3.3" fill="#eef2dc"/>
<text transform="translate(781.4,597.8) rotate(90)" font-size="5" font-weight="bold" fill="#e0f0e0">DB5</text>
<circle cx="790.9" cy="592.6" r="3.3" fill="#eef2dc"/>
<text transform="translate(792.7,597.8) rotate(90)" font-size="5" font-weight="bold" fill="#e0f0e0">DB6</text>
<circle cx="802.1" cy="592.6" r="3.3" fill="#eef2dc"/>
<text transform="translate(803.9,597.8) rotate(90)" font-size="5" font-weight="bold" fill="#e0f0e0">DB7</text>
<circle cx="813.4" cy="592.6" r="3.3" fill="#eef2dc"/>
<text transform="translate(815.2,597.8) rotate(90)" font-size="5" font-weight="bold" fill="#e0f0e0">LED</text>
<circle cx="824.7" cy="592.6" r="3.3" fill="#eef2dc"/>
<text transform="translate(826.5,597.8) rotate(90)" font-size="5" font-weight="bold" fill="#e0f0e0">LED</text>
<rect x="644.4" y="611" width="314.9" height="111.5" fill="#363636"/>
<rect x="655.1" y="629.8" width="293.7" height="71.2" fill="#1c2a48"/>
<path d="M375.6,515 V549 Q375.6,556 382.6,556 H574 Q581,556 581,549 V514.8" fill="none" stroke="#d8343c" stroke-width="3.2" stroke-linecap="butt"/>
<path d="M386.8,515 V536.2 Q386.8,543.2 393.8,543.2 H563 Q570,543.2 570,536.2 V503.4" fill="none" stroke="#3c3c3c" stroke-width="3.2" stroke-linecap="butt"/>
<path d="M431.6,515 V561.8 Q431.6,568.8 438.6,568.8 H731 Q738,568.8 738,561.8 V435.3" fill="none" stroke="#eedc50" stroke-width="3.6" stroke-linecap="butt"/>
<path d="M477,515 V629 Q477,636 484,636 H625" fill="none" stroke="#5aa563" stroke-width="3.2" stroke-linecap="butt"/>
<path d="M487.7,515 V640.7 Q487.7,647.7 494.7,647.7 H625" fill="none" stroke="#b8478f" stroke-width="3.2" stroke-linecap="butt"/>
<path d="M592.4,514.8 V618.2 Q592.4,625.2 599.4,625.2 H625" fill="none" stroke="#d8343c" stroke-width="3.2" stroke-linecap="butt"/>
<path d="M603.4,503.4 V606 Q603.4,613 610.4,613 H625" fill="none" stroke="#3c3c3c" stroke-width="3.2" stroke-linecap="butt"/>
<path d="M727,435.3 V514.8" fill="none" stroke="#d8343c" stroke-width="3.2" stroke-linecap="butt"/>
<path d="M749,435.3 V503.4" fill="none" stroke="#3c3c3c" stroke-width="3.2" stroke-linecap="butt"/>
<rect x="373.1" y="511.5" width="5" height="8" rx="2.3" fill="#d8343c"/>
<rect x="429.1" y="511.5" width="5" height="8" rx="2.3" fill="#eedc50"/>
<rect x="474.5" y="511.5" width="5" height="8" rx="2.3" fill="#5aa563"/>
<rect x="485.2" y="511.5" width="5" height="8" rx="2.3" fill="#b8478f"/>
<rect x="97.4" y="890.2" width="63.4" height="63.4" fill="#ffffff" stroke="#e8e8e8" stroke-width="1"/>
<rect x="167.8" y="890.2" width="63.1" height="63.4" fill="#ffffff" stroke="#e8e8e8" stroke-width="1"/>
<rect x="238.3" y="890.2" width="63.9" height="63.4" fill="#ffffff" stroke="#e8e8e8" stroke-width="1"/>
<rect x="309.1" y="890.2" width="63.0" height="63.3" fill="#ffffff" stroke="#e8e8e8" stroke-width="1"/>
<rect x="379.5" y="890.2" width="62.9" height="63.3" fill="#ffffff" stroke="#e8e8e8" stroke-width="1"/>
<rect x="452.0" y="888.7" width="63.4" height="69.8" fill="#ffffff" stroke="#e8e8e8" stroke-width="1"/>
<rect x="523.0" y="888.7" width="62.8" height="69.8" fill="#ffffff" stroke="#e8e8e8" stroke-width="1"/>
<rect x="593.2" y="888.7" width="63.5" height="69.8" fill="#ffffff" stroke="#e8e8e8" stroke-width="1"/>
<rect x="664.1" y="888.7" width="62.8" height="69.8" fill="#ffffff" stroke="#e8e8e8" stroke-width="1"/>
<rect x="734.5" y="889.0" width="63.2" height="70.2" fill="#ffffff" stroke="#e8e8e8" stroke-width="1"/>
<rect x="806.3" y="889.9" width="64.2" height="62.6" fill="#ffffff" stroke="#e8e8e8" stroke-width="1"/>
<rect x="877.3" y="889.9" width="63.4" height="62.6" fill="#ffffff" stroke="#e8e8e8" stroke-width="1"/>
<ellipse cx="120" cy="915.5" rx="17" ry="5.2" fill="none" stroke="#8cc8e8" stroke-width="0.9"/>
<rect x="100" y="909" width="28" height="12" fill="#fff"/>
<text x="103.5" y="919.2" font-size="10" font-weight="bold" font-style="italic" fill="#1e96d2" textLength="26" lengthAdjust="spacingAndGlyphs">Cytron</text>
<text x="109" y="922.3" font-size="2.2" fill="#7ab8d8">Technologies</text>
<text x="122.7" y="934.7" font-size="14" font-weight="bold" fill="#eda540" textLength="20.5" lengthAdjust="spacingAndGlyphs">OEM</text>
<circle cx="150.7" cy="929.6" r="4.8" fill="none" stroke="#ead0a0" stroke-width="1.3"/>
<path d="M148,929.8 L150,932 L153.6,927.6" fill="none" stroke="#e0b878" stroke-width="1.3"/>
<path d="M181.2,914.5 C178,907 172,905.5 170,907.5 C170.5,912.5 175,915.5 181.2,915.5 Z" fill="#6cb83a" stroke="#222" stroke-width="1"/>
<path d="M182.2,914.5 C185.4,907 191.4,905.5 193.4,907.5 C192.9,912.5 188.4,915.5 182.2,915.5 Z" fill="#6cb83a" stroke="#222" stroke-width="1"/>
<ellipse cx="181.7" cy="927" rx="9.5" ry="9.5" fill="#2a1820"/>
<circle cx="176.5" cy="919.5" r="4.7" fill="#2a1820"/><circle cx="186.8" cy="919.5" r="4.7" fill="#2a1820"/><circle cx="172.6" cy="925.8" r="4.7" fill="#2a1820"/><circle cx="181.7" cy="925.2" r="4.7" fill="#2a1820"/><circle cx="190.8" cy="925.8" r="4.7" fill="#2a1820"/><circle cx="175.8" cy="932" r="4.7" fill="#2a1820"/><circle cx="187.6" cy="932" r="4.7" fill="#2a1820"/><circle cx="181.7" cy="936" r="4.7" fill="#2a1820"/>
<circle cx="176.5" cy="919.5" r="3.7" fill="#d2204f"/><circle cx="186.8" cy="919.5" r="3.7" fill="#d2204f"/><circle cx="172.6" cy="925.8" r="3.7" fill="#d2204f"/><circle cx="181.7" cy="925.2" r="3.7" fill="#d2204f"/><circle cx="190.8" cy="925.8" r="3.7" fill="#d2204f"/><circle cx="175.8" cy="932" r="3.7" fill="#d2204f"/><circle cx="187.6" cy="932" r="3.7" fill="#d2204f"/><circle cx="181.7" cy="936" r="3.7" fill="#d2204f"/>
<text x="194.5" y="925.3" font-size="6.6" fill="#1a1a1a" textLength="35" lengthAdjust="spacingAndGlyphs">RaspberryPi</text>
<rect x="238.7" y="906.9" width="62.9" height="30.7" fill="#16999c"/>
<g fill="none" stroke="#f4fbfb" stroke-width="2.2"><ellipse cx="247.6" cy="917.1" rx="5.4" ry="4.6"/><ellipse cx="259" cy="917.1" rx="5.4" ry="4.6"/></g>
<rect x="245.6" y="916.5" width="3.6" height="1.2" fill="#f4fbfb"/><rect x="257.2" y="916.5" width="3.6" height="1.2" fill="#f4fbfb"/><rect x="258.4" y="915.3" width="1.2" height="3.6" fill="#f4fbfb"/>
<text x="241.5" y="929.2" font-size="4.6" font-weight="bold" fill="#f4fbfb" textLength="24" lengthAdjust="spacingAndGlyphs">ARDUINO</text>
<rect x="248" y="931.5" width="10" height="1.2" fill="#5ab8b8"/>
<rect x="273.4" y="912.3" width="5.4" height="5" fill="#eaf8f8"/>
<rect x="279.6" y="912.3" width="5.4" height="5" fill="#eaf8f8"/>
<rect x="285.8" y="912.3" width="5.4" height="5" fill="#eaf8f8"/>
<rect x="292.0" y="912.3" width="5.4" height="5" fill="#eaf8f8"/>
<text x="273.2" y="923.6" font-size="5.6" font-weight="bold" fill="#f4fbfb" textLength="25" lengthAdjust="spacingAndGlyphs">Genuino</text>
<rect x="276" y="926.2" width="20" height="1.6" fill="#128486"/>
<linearGradient id="mbg" x1="313" y1="0" x2="368" y2="0" gradientUnits="userSpaceOnUse"><stop offset="0" stop-color="#62acd0"/><stop offset="1" stop-color="#6cc07c"/></linearGradient>
<rect x="331.0" y="904.7" width="5" height="4.8" fill="#1a1a1a"/>
<rect x="336.8" y="904.7" width="5" height="4.8" fill="#1a1a1a"/>
<rect x="342.6" y="904.7" width="5" height="4.8" fill="#1a1a1a"/>
<rect x="330.6" y="913.8" width="19.6" height="10.2" rx="5.1" fill="none" stroke="#5cae78" stroke-width="2.3"/>
<circle cx="335.8" cy="918.9" r="1.1" fill="#5cae78"/><circle cx="345" cy="918.9" r="1.1" fill="#5cae78"/>
<text x="313" y="938.3" font-size="13.5" fill="url(#mbg)" stroke="url(#mbg)" stroke-width="0.5" textLength="54.7" lengthAdjust="spacingAndGlyphs">micro:bit</text>
<circle cx="410.6" cy="917.6" r="7.4" fill="#e8202a"/>
<g stroke="#fff" stroke-width="2.4" fill="none"><path d="M406.2,913.6 L411.6,923.6"/><path d="M411.4,913 L416.8,923"/></g>
<path d="M402,918 L407.2,925.4 L402,926 Z" fill="#fff"/><path d="M416,911 L420,910 L420,918.5 Z" fill="#fff"/>
<text x="389.2" y="933.8" font-size="8" font-weight="bold" fill="#111" textLength="44" lengthAdjust="spacingAndGlyphs">MICROCHIP</text>
<rect x="457.9" y="916.5" width="9.5" height="9" rx="2.5" fill="#8ab53c"/>
<text x="459.2" y="923.5" font-size="4.5" font-weight="bold" fill="#eef6e0">ws</text>
<text x="468" y="923.5" font-size="7.2" fill="#8ab53c" textLength="41.5" lengthAdjust="spacingAndGlyphs">WAVESHARE</text>
<text x="468" y="927.5" font-size="2.8" fill="#a8c878" textLength="41" lengthAdjust="spacingAndGlyphs">share awesome hardware</text>
<path d="M535,910.8 L544.6,916.3 L544.6,927.3 L535,932.8 L525.4,927.3 L525.4,916.3 Z" fill="#8cc63f"/>
<path d="M535,913.6 L542,917.6 L542,926 L535,930 L528,926 L528,917.6 Z" fill="#b8e088"/>
<g fill="none" stroke="#fff" stroke-width="1.8"><path d="M534.4,916.5 H530.4 V927 H534.4 M530.4,921.8 H534"/><path d="M535.8,916.5 H539.8 M535.8,916.5 V927 M535.8,921.8 H539.4"/></g>
<text x="545" y="924.2" font-size="9" font-weight="bold" fill="#86c040" textLength="37" lengthAdjust="spacingAndGlyphs">ELECFREAKS</text>
<text x="545" y="928.2" font-size="2.4" fill="#b0d890" textLength="36" lengthAdjust="spacingAndGlyphs">BE AWESOME YOUR IDEA</text>
<path d="M599,914.4 L651.8,914.4 L649,929.4 L596,929.4 Z" fill="#1d6b52"/>
<text x="604" y="926" font-family="Liberation Serif" font-size="13" font-weight="bold" font-style="italic" fill="#f4f8f4" textLength="39" lengthAdjust="spacingAndGlyphs">Pro'sKit</text>
<circle cx="645.5" cy="917.5" r="0.9" fill="none" stroke="#fff" stroke-width="0.4"/>
<text x="597" y="933.6" font-size="2.6" fill="#333" textLength="50" lengthAdjust="spacingAndGlyphs">Professional Tool Solutions Since 1991</text>
<rect x="665.7" y="914" width="16.2" height="18" rx="1.5" fill="#c4272a"/>
<g fill="none" stroke="#fff" stroke-width="1.3"><path d="M668.5,917.5 A11,11 0 0 1 679.5,928.5"/><path d="M668.5,921 A7.5,7.5 0 0 1 676,928.5"/><path d="M668.5,924.5 A4,4 0 0 1 672.5,928.5"/></g>
<text x="685" y="923" font-size="7" fill="#333" textLength="38.5" lengthAdjust="spacingAndGlyphs">乐鑫信息科技</text>
<text x="685" y="930.5" font-size="3.2" fill="#555" textLength="38" lengthAdjust="spacingAndGlyphs">ESPRESSIF SYSTEMS</text>
<text x="736.5" y="931.5" font-size="23" font-weight="bold" fill="#f4f4f4" stroke="#7a7a7a" stroke-width="1" textLength="23" lengthAdjust="spacingAndGlyphs">PI</text>
<text x="778" y="931.5" font-size="23" font-weight="bold" fill="#f4f4f4" stroke="#7a7a7a" stroke-width="1" textLength="16" lengthAdjust="spacingAndGlyphs">Y</text>
<rect x="760.5" y="913.7" width="4.6" height="4.6" fill="#2233bb"/>
<rect x="774.5" y="913.7" width="4.6" height="4.6" fill="#2233bb"/>
<rect x="760.5" y="927.5" width="4.6" height="4.6" fill="#2233bb"/>
<rect x="774.5" y="927.5" width="4.6" height="4.6" fill="#2233bb"/>
<rect x="764" y="917.5" width="4.6" height="4.6" fill="#22aa33"/>
<rect x="771" y="917.5" width="4.6" height="4.6" fill="#22aa33"/>
<rect x="764" y="924" width="4.6" height="4.6" fill="#22aa33"/>
<rect x="771" y="924" width="4.6" height="4.6" fill="#22aa33"/>
<rect x="767.6" y="920.8" width="4.6" height="4.6" fill="#dd2222"/>
<path d="M845,920 Q841,915 845,911 Q846,914 848,913 Q847,909 850,907 Q849,911 852,914 Q854,918 850,920 Z" fill="#e8202a"/>
<text x="808" y="930.5" font-size="13.5" font-weight="bold" fill="#111" textLength="60" lengthAdjust="spacingAndGlyphs">sparkfun.</text>
<ellipse cx="891.80" cy="914.40" rx="2.9" ry="5.2" transform="rotate(0 891.80 914.40)" fill="#1a1a1a"/><ellipse cx="896.75" cy="917.99" rx="2.9" ry="5.2" transform="rotate(72 896.75 917.99)" fill="#1a1a1a"/><ellipse cx="894.86" cy="923.81" rx="2.9" ry="5.2" transform="rotate(144 894.86 923.81)" fill="#1a1a1a"/><ellipse cx="888.74" cy="923.81" rx="2.9" ry="5.2" transform="rotate(216 888.74 923.81)" fill="#1a1a1a"/><ellipse cx="886.85" cy="917.99" rx="2.9" ry="5.2" transform="rotate(288 886.85 917.99)" fill="#1a1a1a"/>
<circle cx="891.8" cy="919.6" r="3.4" fill="#1a1a1a"/>
<circle cx="891.8" cy="919.6" r="1.6" fill="#fff"/>
<text x="897.4" y="929" font-size="11" font-weight="bold" fill="#1a1a1a" textLength="39.4" lengthAdjust="spacingAndGlyphs">adafruit</text>
<text x="262.20" y="107.3" font-size="41" font-weight="bold" fill="#901b1b" stroke="#901b1b" stroke-width="0.7" textLength="177.30" lengthAdjust="spacingAndGlyphs">LM35DZ</text>
<text x="452.40" y="107.3" font-size="41" font-weight="bold" fill="#901b1b" stroke="#901b1b" stroke-width="0.7" textLength="72.20" lengthAdjust="spacingAndGlyphs">For</text>
<text x="537.00" y="107.3" font-size="41" font-weight="bold" fill="#901b1b" stroke="#901b1b" stroke-width="0.7" textLength="175.60" lengthAdjust="spacingAndGlyphs">Arduino</text>
<text x="185.60" y="157.8" font-size="41" font-weight="bold" fill="#050505" stroke="#050505" stroke-width="0.7" textLength="285.70" lengthAdjust="spacingAndGlyphs">Temperature</text>
<text x="483.60" y="157.8" font-size="41" font-weight="bold" fill="#050505" stroke="#050505" stroke-width="0.7" textLength="152.70" lengthAdjust="spacingAndGlyphs">Sensor</text>
<text x="650.00" y="157.8" font-size="41" font-weight="bold" fill="#050505" stroke="#050505" stroke-width="0.7" textLength="113.00" lengthAdjust="spacingAndGlyphs">Suhu</text>
</svg></body></html>
